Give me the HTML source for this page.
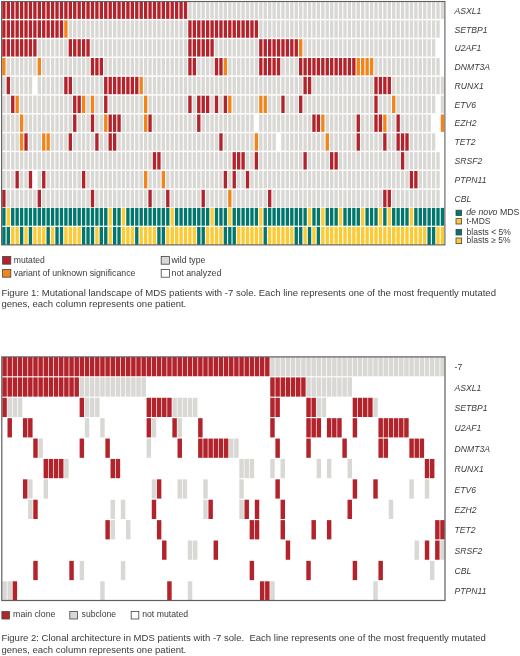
<!DOCTYPE html>
<html><head><meta charset="utf-8"><style>
html,body{margin:0;padding:0;background:#fff;}
body{width:520px;height:656px;position:relative;overflow:hidden;font-family:"Liberation Sans",sans-serif;color:#3a3a3a;}
svg{position:absolute;left:0;top:0;}
#wrap{position:absolute;left:0;top:0;width:520px;height:656px;}
</style></head><body>
<div id="wrap"><svg width="520" height="656" viewBox="0 0 520 656" shape-rendering="auto">
<rect x="2.20" y="1.50" width="3.35" height="17.40" fill="#b2232b"/><rect x="6.63" y="1.50" width="3.35" height="17.40" fill="#b2232b"/><rect x="11.06" y="1.50" width="3.35" height="17.40" fill="#b2232b"/><rect x="15.49" y="1.50" width="3.35" height="17.40" fill="#b2232b"/><rect x="19.92" y="1.50" width="3.35" height="17.40" fill="#b2232b"/><rect x="24.35" y="1.50" width="3.35" height="17.40" fill="#b2232b"/><rect x="28.78" y="1.50" width="3.35" height="17.40" fill="#b2232b"/><rect x="33.21" y="1.50" width="3.35" height="17.40" fill="#b2232b"/><rect x="37.64" y="1.50" width="3.35" height="17.40" fill="#b2232b"/><rect x="42.07" y="1.50" width="3.35" height="17.40" fill="#b2232b"/><rect x="46.50" y="1.50" width="3.35" height="17.40" fill="#b2232b"/><rect x="50.93" y="1.50" width="3.35" height="17.40" fill="#b2232b"/><rect x="55.36" y="1.50" width="3.35" height="17.40" fill="#b2232b"/><rect x="59.79" y="1.50" width="3.35" height="17.40" fill="#b2232b"/><rect x="64.22" y="1.50" width="3.35" height="17.40" fill="#b2232b"/><rect x="68.65" y="1.50" width="3.35" height="17.40" fill="#b2232b"/><rect x="73.08" y="1.50" width="3.35" height="17.40" fill="#b2232b"/><rect x="77.51" y="1.50" width="3.35" height="17.40" fill="#b2232b"/><rect x="81.94" y="1.50" width="3.35" height="17.40" fill="#b2232b"/><rect x="86.37" y="1.50" width="3.35" height="17.40" fill="#b2232b"/><rect x="90.80" y="1.50" width="3.35" height="17.40" fill="#b2232b"/><rect x="95.23" y="1.50" width="3.35" height="17.40" fill="#b2232b"/><rect x="99.66" y="1.50" width="3.35" height="17.40" fill="#b2232b"/><rect x="104.09" y="1.50" width="3.35" height="17.40" fill="#b2232b"/><rect x="108.52" y="1.50" width="3.35" height="17.40" fill="#b2232b"/><rect x="112.95" y="1.50" width="3.35" height="17.40" fill="#b2232b"/><rect x="117.38" y="1.50" width="3.35" height="17.40" fill="#b2232b"/><rect x="121.81" y="1.50" width="3.35" height="17.40" fill="#b2232b"/><rect x="126.24" y="1.50" width="3.35" height="17.40" fill="#b2232b"/><rect x="130.67" y="1.50" width="3.35" height="17.40" fill="#b2232b"/><rect x="135.10" y="1.50" width="3.35" height="17.40" fill="#b2232b"/><rect x="139.53" y="1.50" width="3.35" height="17.40" fill="#b2232b"/><rect x="143.96" y="1.50" width="3.35" height="17.40" fill="#b2232b"/><rect x="148.39" y="1.50" width="3.35" height="17.40" fill="#b2232b"/><rect x="152.82" y="1.50" width="3.35" height="17.40" fill="#b2232b"/><rect x="157.25" y="1.50" width="3.35" height="17.40" fill="#b2232b"/><rect x="161.68" y="1.50" width="3.35" height="17.40" fill="#b2232b"/><rect x="166.11" y="1.50" width="3.35" height="17.40" fill="#b2232b"/><rect x="170.54" y="1.50" width="3.35" height="17.40" fill="#b2232b"/><rect x="174.97" y="1.50" width="3.35" height="17.40" fill="#b2232b"/><rect x="179.40" y="1.50" width="3.35" height="17.40" fill="#b2232b"/><rect x="183.83" y="1.50" width="3.35" height="17.40" fill="#b2232b"/><rect x="188.26" y="1.50" width="3.35" height="17.40" fill="#d9d8d5"/><rect x="192.69" y="1.50" width="3.35" height="17.40" fill="#d9d8d5"/><rect x="197.12" y="1.50" width="3.35" height="17.40" fill="#d9d8d5"/><rect x="201.55" y="1.50" width="3.35" height="17.40" fill="#d9d8d5"/><rect x="205.98" y="1.50" width="3.35" height="17.40" fill="#d9d8d5"/><rect x="210.41" y="1.50" width="3.35" height="17.40" fill="#d9d8d5"/><rect x="214.84" y="1.50" width="3.35" height="17.40" fill="#d9d8d5"/><rect x="219.27" y="1.50" width="3.35" height="17.40" fill="#d9d8d5"/><rect x="223.70" y="1.50" width="3.35" height="17.40" fill="#d9d8d5"/><rect x="228.13" y="1.50" width="3.35" height="17.40" fill="#d9d8d5"/><rect x="232.56" y="1.50" width="3.35" height="17.40" fill="#d9d8d5"/><rect x="236.99" y="1.50" width="3.35" height="17.40" fill="#d9d8d5"/><rect x="241.42" y="1.50" width="3.35" height="17.40" fill="#d9d8d5"/><rect x="245.85" y="1.50" width="3.35" height="17.40" fill="#d9d8d5"/><rect x="250.28" y="1.50" width="3.35" height="17.40" fill="#d9d8d5"/><rect x="254.71" y="1.50" width="3.35" height="17.40" fill="#d9d8d5"/><rect x="259.14" y="1.50" width="3.35" height="17.40" fill="#d9d8d5"/><rect x="263.57" y="1.50" width="3.35" height="17.40" fill="#d9d8d5"/><rect x="268.00" y="1.50" width="3.35" height="17.40" fill="#d9d8d5"/><rect x="272.43" y="1.50" width="3.35" height="17.40" fill="#d9d8d5"/><rect x="276.86" y="1.50" width="3.35" height="17.40" fill="#d9d8d5"/><rect x="281.29" y="1.50" width="3.35" height="17.40" fill="#d9d8d5"/><rect x="285.72" y="1.50" width="3.35" height="17.40" fill="#d9d8d5"/><rect x="290.15" y="1.50" width="3.35" height="17.40" fill="#d9d8d5"/><rect x="294.58" y="1.50" width="3.35" height="17.40" fill="#d9d8d5"/><rect x="299.01" y="1.50" width="3.35" height="17.40" fill="#d9d8d5"/><rect x="303.44" y="1.50" width="3.35" height="17.40" fill="#d9d8d5"/><rect x="307.87" y="1.50" width="3.35" height="17.40" fill="#d9d8d5"/><rect x="312.30" y="1.50" width="3.35" height="17.40" fill="#d9d8d5"/><rect x="316.73" y="1.50" width="3.35" height="17.40" fill="#d9d8d5"/><rect x="321.16" y="1.50" width="3.35" height="17.40" fill="#d9d8d5"/><rect x="325.59" y="1.50" width="3.35" height="17.40" fill="#d9d8d5"/><rect x="330.02" y="1.50" width="3.35" height="17.40" fill="#d9d8d5"/><rect x="334.45" y="1.50" width="3.35" height="17.40" fill="#d9d8d5"/><rect x="338.88" y="1.50" width="3.35" height="17.40" fill="#d9d8d5"/><rect x="343.31" y="1.50" width="3.35" height="17.40" fill="#d9d8d5"/><rect x="347.74" y="1.50" width="3.35" height="17.40" fill="#d9d8d5"/><rect x="352.17" y="1.50" width="3.35" height="17.40" fill="#d9d8d5"/><rect x="356.60" y="1.50" width="3.35" height="17.40" fill="#d9d8d5"/><rect x="361.03" y="1.50" width="3.35" height="17.40" fill="#d9d8d5"/><rect x="365.46" y="1.50" width="3.35" height="17.40" fill="#d9d8d5"/><rect x="369.89" y="1.50" width="3.35" height="17.40" fill="#d9d8d5"/><rect x="374.32" y="1.50" width="3.35" height="17.40" fill="#d9d8d5"/><rect x="378.75" y="1.50" width="3.35" height="17.40" fill="#d9d8d5"/><rect x="383.18" y="1.50" width="3.35" height="17.40" fill="#d9d8d5"/><rect x="387.61" y="1.50" width="3.35" height="17.40" fill="#d9d8d5"/><rect x="392.04" y="1.50" width="3.35" height="17.40" fill="#d9d8d5"/><rect x="396.47" y="1.50" width="3.35" height="17.40" fill="#d9d8d5"/><rect x="400.90" y="1.50" width="3.35" height="17.40" fill="#d9d8d5"/><rect x="405.33" y="1.50" width="3.35" height="17.40" fill="#d9d8d5"/><rect x="409.76" y="1.50" width="3.35" height="17.40" fill="#d9d8d5"/><rect x="414.19" y="1.50" width="3.35" height="17.40" fill="#d9d8d5"/><rect x="418.62" y="1.50" width="3.35" height="17.40" fill="#d9d8d5"/><rect x="423.05" y="1.50" width="3.35" height="17.40" fill="#d9d8d5"/><rect x="427.48" y="1.50" width="3.35" height="17.40" fill="#d9d8d5"/><rect x="431.91" y="1.50" width="3.35" height="17.40" fill="#d9d8d5"/><rect x="436.34" y="1.50" width="3.35" height="17.40" fill="#d9d8d5"/><rect x="440.77" y="1.50" width="3.35" height="17.40" fill="#d9d8d5"/><rect x="2.20" y="20.33" width="3.35" height="17.40" fill="#b2232b"/><rect x="6.63" y="20.33" width="3.35" height="17.40" fill="#b2232b"/><rect x="11.06" y="20.33" width="3.35" height="17.40" fill="#b2232b"/><rect x="15.49" y="20.33" width="3.35" height="17.40" fill="#b2232b"/><rect x="19.92" y="20.33" width="3.35" height="17.40" fill="#b2232b"/><rect x="24.35" y="20.33" width="3.35" height="17.40" fill="#b2232b"/><rect x="28.78" y="20.33" width="3.35" height="17.40" fill="#b2232b"/><rect x="33.21" y="20.33" width="3.35" height="17.40" fill="#b2232b"/><rect x="37.64" y="20.33" width="3.35" height="17.40" fill="#b2232b"/><rect x="42.07" y="20.33" width="3.35" height="17.40" fill="#b2232b"/><rect x="46.50" y="20.33" width="3.35" height="17.40" fill="#b2232b"/><rect x="50.93" y="20.33" width="3.35" height="17.40" fill="#b2232b"/><rect x="55.36" y="20.33" width="3.35" height="17.40" fill="#b2232b"/><rect x="59.79" y="20.33" width="3.35" height="17.40" fill="#b2232b"/><rect x="64.22" y="20.33" width="3.35" height="17.40" fill="#f3841c"/><rect x="68.65" y="20.33" width="3.35" height="17.40" fill="#d9d8d5"/><rect x="73.08" y="20.33" width="3.35" height="17.40" fill="#d9d8d5"/><rect x="77.51" y="20.33" width="3.35" height="17.40" fill="#d9d8d5"/><rect x="81.94" y="20.33" width="3.35" height="17.40" fill="#d9d8d5"/><rect x="86.37" y="20.33" width="3.35" height="17.40" fill="#d9d8d5"/><rect x="90.80" y="20.33" width="3.35" height="17.40" fill="#d9d8d5"/><rect x="95.23" y="20.33" width="3.35" height="17.40" fill="#d9d8d5"/><rect x="99.66" y="20.33" width="3.35" height="17.40" fill="#d9d8d5"/><rect x="104.09" y="20.33" width="3.35" height="17.40" fill="#d9d8d5"/><rect x="108.52" y="20.33" width="3.35" height="17.40" fill="#d9d8d5"/><rect x="112.95" y="20.33" width="3.35" height="17.40" fill="#d9d8d5"/><rect x="117.38" y="20.33" width="3.35" height="17.40" fill="#d9d8d5"/><rect x="121.81" y="20.33" width="3.35" height="17.40" fill="#d9d8d5"/><rect x="126.24" y="20.33" width="3.35" height="17.40" fill="#d9d8d5"/><rect x="130.67" y="20.33" width="3.35" height="17.40" fill="#d9d8d5"/><rect x="135.10" y="20.33" width="3.35" height="17.40" fill="#d9d8d5"/><rect x="139.53" y="20.33" width="3.35" height="17.40" fill="#d9d8d5"/><rect x="143.96" y="20.33" width="3.35" height="17.40" fill="#d9d8d5"/><rect x="148.39" y="20.33" width="3.35" height="17.40" fill="#d9d8d5"/><rect x="152.82" y="20.33" width="3.35" height="17.40" fill="#d9d8d5"/><rect x="157.25" y="20.33" width="3.35" height="17.40" fill="#d9d8d5"/><rect x="161.68" y="20.33" width="3.35" height="17.40" fill="#d9d8d5"/><rect x="166.11" y="20.33" width="3.35" height="17.40" fill="#d9d8d5"/><rect x="170.54" y="20.33" width="3.35" height="17.40" fill="#d9d8d5"/><rect x="174.97" y="20.33" width="3.35" height="17.40" fill="#d9d8d5"/><rect x="179.40" y="20.33" width="3.35" height="17.40" fill="#d9d8d5"/><rect x="183.83" y="20.33" width="3.35" height="17.40" fill="#d9d8d5"/><rect x="188.26" y="20.33" width="3.35" height="17.40" fill="#b2232b"/><rect x="192.69" y="20.33" width="3.35" height="17.40" fill="#b2232b"/><rect x="197.12" y="20.33" width="3.35" height="17.40" fill="#b2232b"/><rect x="201.55" y="20.33" width="3.35" height="17.40" fill="#b2232b"/><rect x="205.98" y="20.33" width="3.35" height="17.40" fill="#b2232b"/><rect x="210.41" y="20.33" width="3.35" height="17.40" fill="#b2232b"/><rect x="214.84" y="20.33" width="3.35" height="17.40" fill="#b2232b"/><rect x="219.27" y="20.33" width="3.35" height="17.40" fill="#b2232b"/><rect x="223.70" y="20.33" width="3.35" height="17.40" fill="#b2232b"/><rect x="228.13" y="20.33" width="3.35" height="17.40" fill="#b2232b"/><rect x="232.56" y="20.33" width="3.35" height="17.40" fill="#b2232b"/><rect x="236.99" y="20.33" width="3.35" height="17.40" fill="#b2232b"/><rect x="241.42" y="20.33" width="3.35" height="17.40" fill="#b2232b"/><rect x="245.85" y="20.33" width="3.35" height="17.40" fill="#b2232b"/><rect x="250.28" y="20.33" width="3.35" height="17.40" fill="#b2232b"/><rect x="254.71" y="20.33" width="3.35" height="17.40" fill="#b2232b"/><rect x="259.14" y="20.33" width="3.35" height="17.40" fill="#d9d8d5"/><rect x="263.57" y="20.33" width="3.35" height="17.40" fill="#d9d8d5"/><rect x="268.00" y="20.33" width="3.35" height="17.40" fill="#d9d8d5"/><rect x="272.43" y="20.33" width="3.35" height="17.40" fill="#d9d8d5"/><rect x="276.86" y="20.33" width="3.35" height="17.40" fill="#d9d8d5"/><rect x="281.29" y="20.33" width="3.35" height="17.40" fill="#d9d8d5"/><rect x="285.72" y="20.33" width="3.35" height="17.40" fill="#d9d8d5"/><rect x="290.15" y="20.33" width="3.35" height="17.40" fill="#d9d8d5"/><rect x="294.58" y="20.33" width="3.35" height="17.40" fill="#d9d8d5"/><rect x="299.01" y="20.33" width="3.35" height="17.40" fill="#d9d8d5"/><rect x="303.44" y="20.33" width="3.35" height="17.40" fill="#d9d8d5"/><rect x="307.87" y="20.33" width="3.35" height="17.40" fill="#d9d8d5"/><rect x="312.30" y="20.33" width="3.35" height="17.40" fill="#d9d8d5"/><rect x="316.73" y="20.33" width="3.35" height="17.40" fill="#d9d8d5"/><rect x="321.16" y="20.33" width="3.35" height="17.40" fill="#d9d8d5"/><rect x="325.59" y="20.33" width="3.35" height="17.40" fill="#d9d8d5"/><rect x="330.02" y="20.33" width="3.35" height="17.40" fill="#d9d8d5"/><rect x="334.45" y="20.33" width="3.35" height="17.40" fill="#d9d8d5"/><rect x="338.88" y="20.33" width="3.35" height="17.40" fill="#d9d8d5"/><rect x="343.31" y="20.33" width="3.35" height="17.40" fill="#d9d8d5"/><rect x="347.74" y="20.33" width="3.35" height="17.40" fill="#d9d8d5"/><rect x="352.17" y="20.33" width="3.35" height="17.40" fill="#d9d8d5"/><rect x="356.60" y="20.33" width="3.35" height="17.40" fill="#d9d8d5"/><rect x="361.03" y="20.33" width="3.35" height="17.40" fill="#d9d8d5"/><rect x="365.46" y="20.33" width="3.35" height="17.40" fill="#d9d8d5"/><rect x="369.89" y="20.33" width="3.35" height="17.40" fill="#d9d8d5"/><rect x="374.32" y="20.33" width="3.35" height="17.40" fill="#d9d8d5"/><rect x="378.75" y="20.33" width="3.35" height="17.40" fill="#d9d8d5"/><rect x="383.18" y="20.33" width="3.35" height="17.40" fill="#d9d8d5"/><rect x="387.61" y="20.33" width="3.35" height="17.40" fill="#d9d8d5"/><rect x="392.04" y="20.33" width="3.35" height="17.40" fill="#d9d8d5"/><rect x="396.47" y="20.33" width="3.35" height="17.40" fill="#d9d8d5"/><rect x="400.90" y="20.33" width="3.35" height="17.40" fill="#d9d8d5"/><rect x="405.33" y="20.33" width="3.35" height="17.40" fill="#d9d8d5"/><rect x="409.76" y="20.33" width="3.35" height="17.40" fill="#d9d8d5"/><rect x="414.19" y="20.33" width="3.35" height="17.40" fill="#d9d8d5"/><rect x="418.62" y="20.33" width="3.35" height="17.40" fill="#d9d8d5"/><rect x="423.05" y="20.33" width="3.35" height="17.40" fill="#d9d8d5"/><rect x="427.48" y="20.33" width="3.35" height="17.40" fill="#d9d8d5"/><rect x="431.91" y="20.33" width="3.35" height="17.40" fill="#d9d8d5"/><rect x="436.34" y="20.33" width="3.35" height="17.40" fill="#d9d8d5"/><rect x="2.20" y="39.16" width="3.35" height="17.40" fill="#b2232b"/><rect x="6.63" y="39.16" width="3.35" height="17.40" fill="#b2232b"/><rect x="11.06" y="39.16" width="3.35" height="17.40" fill="#b2232b"/><rect x="15.49" y="39.16" width="3.35" height="17.40" fill="#b2232b"/><rect x="19.92" y="39.16" width="3.35" height="17.40" fill="#b2232b"/><rect x="24.35" y="39.16" width="3.35" height="17.40" fill="#b2232b"/><rect x="28.78" y="39.16" width="3.35" height="17.40" fill="#b2232b"/><rect x="33.21" y="39.16" width="3.35" height="17.40" fill="#b2232b"/><rect x="37.64" y="39.16" width="3.35" height="17.40" fill="#d9d8d5"/><rect x="42.07" y="39.16" width="3.35" height="17.40" fill="#d9d8d5"/><rect x="46.50" y="39.16" width="3.35" height="17.40" fill="#d9d8d5"/><rect x="50.93" y="39.16" width="3.35" height="17.40" fill="#d9d8d5"/><rect x="55.36" y="39.16" width="3.35" height="17.40" fill="#d9d8d5"/><rect x="59.79" y="39.16" width="3.35" height="17.40" fill="#d9d8d5"/><rect x="64.22" y="39.16" width="3.35" height="17.40" fill="#d9d8d5"/><rect x="68.65" y="39.16" width="3.35" height="17.40" fill="#b2232b"/><rect x="73.08" y="39.16" width="3.35" height="17.40" fill="#b2232b"/><rect x="77.51" y="39.16" width="3.35" height="17.40" fill="#b2232b"/><rect x="81.94" y="39.16" width="3.35" height="17.40" fill="#b2232b"/><rect x="86.37" y="39.16" width="3.35" height="17.40" fill="#b2232b"/><rect x="90.80" y="39.16" width="3.35" height="17.40" fill="#d9d8d5"/><rect x="95.23" y="39.16" width="3.35" height="17.40" fill="#d9d8d5"/><rect x="99.66" y="39.16" width="3.35" height="17.40" fill="#d9d8d5"/><rect x="104.09" y="39.16" width="3.35" height="17.40" fill="#d9d8d5"/><rect x="108.52" y="39.16" width="3.35" height="17.40" fill="#d9d8d5"/><rect x="112.95" y="39.16" width="3.35" height="17.40" fill="#d9d8d5"/><rect x="117.38" y="39.16" width="3.35" height="17.40" fill="#d9d8d5"/><rect x="121.81" y="39.16" width="3.35" height="17.40" fill="#d9d8d5"/><rect x="126.24" y="39.16" width="3.35" height="17.40" fill="#d9d8d5"/><rect x="130.67" y="39.16" width="3.35" height="17.40" fill="#d9d8d5"/><rect x="135.10" y="39.16" width="3.35" height="17.40" fill="#d9d8d5"/><rect x="139.53" y="39.16" width="3.35" height="17.40" fill="#d9d8d5"/><rect x="143.96" y="39.16" width="3.35" height="17.40" fill="#d9d8d5"/><rect x="148.39" y="39.16" width="3.35" height="17.40" fill="#d9d8d5"/><rect x="152.82" y="39.16" width="3.35" height="17.40" fill="#d9d8d5"/><rect x="157.25" y="39.16" width="3.35" height="17.40" fill="#d9d8d5"/><rect x="161.68" y="39.16" width="3.35" height="17.40" fill="#d9d8d5"/><rect x="166.11" y="39.16" width="3.35" height="17.40" fill="#d9d8d5"/><rect x="170.54" y="39.16" width="3.35" height="17.40" fill="#d9d8d5"/><rect x="174.97" y="39.16" width="3.35" height="17.40" fill="#d9d8d5"/><rect x="179.40" y="39.16" width="3.35" height="17.40" fill="#d9d8d5"/><rect x="183.83" y="39.16" width="3.35" height="17.40" fill="#d9d8d5"/><rect x="188.26" y="39.16" width="3.35" height="17.40" fill="#b2232b"/><rect x="192.69" y="39.16" width="3.35" height="17.40" fill="#b2232b"/><rect x="197.12" y="39.16" width="3.35" height="17.40" fill="#b2232b"/><rect x="201.55" y="39.16" width="3.35" height="17.40" fill="#b2232b"/><rect x="205.98" y="39.16" width="3.35" height="17.40" fill="#b2232b"/><rect x="210.41" y="39.16" width="3.35" height="17.40" fill="#b2232b"/><rect x="214.84" y="39.16" width="3.35" height="17.40" fill="#d9d8d5"/><rect x="219.27" y="39.16" width="3.35" height="17.40" fill="#d9d8d5"/><rect x="223.70" y="39.16" width="3.35" height="17.40" fill="#d9d8d5"/><rect x="228.13" y="39.16" width="3.35" height="17.40" fill="#d9d8d5"/><rect x="232.56" y="39.16" width="3.35" height="17.40" fill="#d9d8d5"/><rect x="236.99" y="39.16" width="3.35" height="17.40" fill="#d9d8d5"/><rect x="241.42" y="39.16" width="3.35" height="17.40" fill="#d9d8d5"/><rect x="245.85" y="39.16" width="3.35" height="17.40" fill="#d9d8d5"/><rect x="250.28" y="39.16" width="3.35" height="17.40" fill="#d9d8d5"/><rect x="254.71" y="39.16" width="3.35" height="17.40" fill="#d9d8d5"/><rect x="259.14" y="39.16" width="3.35" height="17.40" fill="#b2232b"/><rect x="263.57" y="39.16" width="3.35" height="17.40" fill="#b2232b"/><rect x="268.00" y="39.16" width="3.35" height="17.40" fill="#b2232b"/><rect x="272.43" y="39.16" width="3.35" height="17.40" fill="#b2232b"/><rect x="276.86" y="39.16" width="3.35" height="17.40" fill="#b2232b"/><rect x="281.29" y="39.16" width="3.35" height="17.40" fill="#b2232b"/><rect x="285.72" y="39.16" width="3.35" height="17.40" fill="#b2232b"/><rect x="290.15" y="39.16" width="3.35" height="17.40" fill="#b2232b"/><rect x="294.58" y="39.16" width="3.35" height="17.40" fill="#b2232b"/><rect x="299.01" y="39.16" width="3.35" height="17.40" fill="#f3841c"/><rect x="303.44" y="39.16" width="3.35" height="17.40" fill="#d9d8d5"/><rect x="307.87" y="39.16" width="3.35" height="17.40" fill="#d9d8d5"/><rect x="312.30" y="39.16" width="3.35" height="17.40" fill="#d9d8d5"/><rect x="316.73" y="39.16" width="3.35" height="17.40" fill="#d9d8d5"/><rect x="321.16" y="39.16" width="3.35" height="17.40" fill="#d9d8d5"/><rect x="325.59" y="39.16" width="3.35" height="17.40" fill="#d9d8d5"/><rect x="330.02" y="39.16" width="3.35" height="17.40" fill="#d9d8d5"/><rect x="334.45" y="39.16" width="3.35" height="17.40" fill="#d9d8d5"/><rect x="338.88" y="39.16" width="3.35" height="17.40" fill="#d9d8d5"/><rect x="343.31" y="39.16" width="3.35" height="17.40" fill="#d9d8d5"/><rect x="347.74" y="39.16" width="3.35" height="17.40" fill="#d9d8d5"/><rect x="352.17" y="39.16" width="3.35" height="17.40" fill="#d9d8d5"/><rect x="356.60" y="39.16" width="3.35" height="17.40" fill="#d9d8d5"/><rect x="361.03" y="39.16" width="3.35" height="17.40" fill="#d9d8d5"/><rect x="365.46" y="39.16" width="3.35" height="17.40" fill="#d9d8d5"/><rect x="369.89" y="39.16" width="3.35" height="17.40" fill="#d9d8d5"/><rect x="374.32" y="39.16" width="3.35" height="17.40" fill="#d9d8d5"/><rect x="378.75" y="39.16" width="3.35" height="17.40" fill="#d9d8d5"/><rect x="383.18" y="39.16" width="3.35" height="17.40" fill="#d9d8d5"/><rect x="387.61" y="39.16" width="3.35" height="17.40" fill="#d9d8d5"/><rect x="392.04" y="39.16" width="3.35" height="17.40" fill="#d9d8d5"/><rect x="396.47" y="39.16" width="3.35" height="17.40" fill="#d9d8d5"/><rect x="400.90" y="39.16" width="3.35" height="17.40" fill="#d9d8d5"/><rect x="405.33" y="39.16" width="3.35" height="17.40" fill="#d9d8d5"/><rect x="409.76" y="39.16" width="3.35" height="17.40" fill="#d9d8d5"/><rect x="414.19" y="39.16" width="3.35" height="17.40" fill="#d9d8d5"/><rect x="418.62" y="39.16" width="3.35" height="17.40" fill="#d9d8d5"/><rect x="423.05" y="39.16" width="3.35" height="17.40" fill="#d9d8d5"/><rect x="427.48" y="39.16" width="3.35" height="17.40" fill="#d9d8d5"/><rect x="431.91" y="39.16" width="3.35" height="17.40" fill="#d9d8d5"/><rect x="2.20" y="57.99" width="3.35" height="17.40" fill="#f3841c"/><rect x="6.63" y="57.99" width="3.35" height="17.40" fill="#d9d8d5"/><rect x="11.06" y="57.99" width="3.35" height="17.40" fill="#d9d8d5"/><rect x="15.49" y="57.99" width="3.35" height="17.40" fill="#d9d8d5"/><rect x="19.92" y="57.99" width="3.35" height="17.40" fill="#d9d8d5"/><rect x="24.35" y="57.99" width="3.35" height="17.40" fill="#d9d8d5"/><rect x="28.78" y="57.99" width="3.35" height="17.40" fill="#d9d8d5"/><rect x="33.21" y="57.99" width="3.35" height="17.40" fill="#d9d8d5"/><rect x="37.64" y="57.99" width="3.35" height="17.40" fill="#f3841c"/><rect x="42.07" y="57.99" width="3.35" height="17.40" fill="#d9d8d5"/><rect x="46.50" y="57.99" width="3.35" height="17.40" fill="#d9d8d5"/><rect x="50.93" y="57.99" width="3.35" height="17.40" fill="#d9d8d5"/><rect x="55.36" y="57.99" width="3.35" height="17.40" fill="#d9d8d5"/><rect x="59.79" y="57.99" width="3.35" height="17.40" fill="#d9d8d5"/><rect x="64.22" y="57.99" width="3.35" height="17.40" fill="#d9d8d5"/><rect x="68.65" y="57.99" width="3.35" height="17.40" fill="#d9d8d5"/><rect x="73.08" y="57.99" width="3.35" height="17.40" fill="#d9d8d5"/><rect x="77.51" y="57.99" width="3.35" height="17.40" fill="#d9d8d5"/><rect x="81.94" y="57.99" width="3.35" height="17.40" fill="#d9d8d5"/><rect x="86.37" y="57.99" width="3.35" height="17.40" fill="#d9d8d5"/><rect x="90.80" y="57.99" width="3.35" height="17.40" fill="#b2232b"/><rect x="95.23" y="57.99" width="3.35" height="17.40" fill="#b2232b"/><rect x="99.66" y="57.99" width="3.35" height="17.40" fill="#b2232b"/><rect x="104.09" y="57.99" width="3.35" height="17.40" fill="#d9d8d5"/><rect x="108.52" y="57.99" width="3.35" height="17.40" fill="#d9d8d5"/><rect x="112.95" y="57.99" width="3.35" height="17.40" fill="#d9d8d5"/><rect x="117.38" y="57.99" width="3.35" height="17.40" fill="#d9d8d5"/><rect x="121.81" y="57.99" width="3.35" height="17.40" fill="#d9d8d5"/><rect x="126.24" y="57.99" width="3.35" height="17.40" fill="#d9d8d5"/><rect x="130.67" y="57.99" width="3.35" height="17.40" fill="#d9d8d5"/><rect x="135.10" y="57.99" width="3.35" height="17.40" fill="#d9d8d5"/><rect x="139.53" y="57.99" width="3.35" height="17.40" fill="#d9d8d5"/><rect x="143.96" y="57.99" width="3.35" height="17.40" fill="#d9d8d5"/><rect x="148.39" y="57.99" width="3.35" height="17.40" fill="#d9d8d5"/><rect x="152.82" y="57.99" width="3.35" height="17.40" fill="#d9d8d5"/><rect x="157.25" y="57.99" width="3.35" height="17.40" fill="#d9d8d5"/><rect x="161.68" y="57.99" width="3.35" height="17.40" fill="#d9d8d5"/><rect x="166.11" y="57.99" width="3.35" height="17.40" fill="#d9d8d5"/><rect x="170.54" y="57.99" width="3.35" height="17.40" fill="#d9d8d5"/><rect x="174.97" y="57.99" width="3.35" height="17.40" fill="#d9d8d5"/><rect x="179.40" y="57.99" width="3.35" height="17.40" fill="#d9d8d5"/><rect x="183.83" y="57.99" width="3.35" height="17.40" fill="#d9d8d5"/><rect x="188.26" y="57.99" width="3.35" height="17.40" fill="#b2232b"/><rect x="192.69" y="57.99" width="3.35" height="17.40" fill="#b2232b"/><rect x="197.12" y="57.99" width="3.35" height="17.40" fill="#d9d8d5"/><rect x="201.55" y="57.99" width="3.35" height="17.40" fill="#d9d8d5"/><rect x="205.98" y="57.99" width="3.35" height="17.40" fill="#d9d8d5"/><rect x="210.41" y="57.99" width="3.35" height="17.40" fill="#d9d8d5"/><rect x="214.84" y="57.99" width="3.35" height="17.40" fill="#b2232b"/><rect x="219.27" y="57.99" width="3.35" height="17.40" fill="#b2232b"/><rect x="223.70" y="57.99" width="3.35" height="17.40" fill="#f3841c"/><rect x="228.13" y="57.99" width="3.35" height="17.40" fill="#d9d8d5"/><rect x="232.56" y="57.99" width="3.35" height="17.40" fill="#d9d8d5"/><rect x="236.99" y="57.99" width="3.35" height="17.40" fill="#d9d8d5"/><rect x="241.42" y="57.99" width="3.35" height="17.40" fill="#d9d8d5"/><rect x="245.85" y="57.99" width="3.35" height="17.40" fill="#d9d8d5"/><rect x="250.28" y="57.99" width="3.35" height="17.40" fill="#d9d8d5"/><rect x="254.71" y="57.99" width="3.35" height="17.40" fill="#d9d8d5"/><rect x="259.14" y="57.99" width="3.35" height="17.40" fill="#b2232b"/><rect x="263.57" y="57.99" width="3.35" height="17.40" fill="#b2232b"/><rect x="268.00" y="57.99" width="3.35" height="17.40" fill="#b2232b"/><rect x="272.43" y="57.99" width="3.35" height="17.40" fill="#b2232b"/><rect x="276.86" y="57.99" width="3.35" height="17.40" fill="#b2232b"/><rect x="281.29" y="57.99" width="3.35" height="17.40" fill="#d9d8d5"/><rect x="285.72" y="57.99" width="3.35" height="17.40" fill="#d9d8d5"/><rect x="290.15" y="57.99" width="3.35" height="17.40" fill="#d9d8d5"/><rect x="294.58" y="57.99" width="3.35" height="17.40" fill="#d9d8d5"/><rect x="299.01" y="57.99" width="3.35" height="17.40" fill="#b2232b"/><rect x="303.44" y="57.99" width="3.35" height="17.40" fill="#b2232b"/><rect x="307.87" y="57.99" width="3.35" height="17.40" fill="#b2232b"/><rect x="312.30" y="57.99" width="3.35" height="17.40" fill="#b2232b"/><rect x="316.73" y="57.99" width="3.35" height="17.40" fill="#b2232b"/><rect x="321.16" y="57.99" width="3.35" height="17.40" fill="#b2232b"/><rect x="325.59" y="57.99" width="3.35" height="17.40" fill="#b2232b"/><rect x="330.02" y="57.99" width="3.35" height="17.40" fill="#b2232b"/><rect x="334.45" y="57.99" width="3.35" height="17.40" fill="#b2232b"/><rect x="338.88" y="57.99" width="3.35" height="17.40" fill="#b2232b"/><rect x="343.31" y="57.99" width="3.35" height="17.40" fill="#b2232b"/><rect x="347.74" y="57.99" width="3.35" height="17.40" fill="#b2232b"/><rect x="352.17" y="57.99" width="3.35" height="17.40" fill="#b2232b"/><rect x="356.60" y="57.99" width="3.35" height="17.40" fill="#f3841c"/><rect x="361.03" y="57.99" width="3.35" height="17.40" fill="#f3841c"/><rect x="365.46" y="57.99" width="3.35" height="17.40" fill="#f3841c"/><rect x="369.89" y="57.99" width="3.35" height="17.40" fill="#f3841c"/><rect x="374.32" y="57.99" width="3.35" height="17.40" fill="#d9d8d5"/><rect x="378.75" y="57.99" width="3.35" height="17.40" fill="#d9d8d5"/><rect x="383.18" y="57.99" width="3.35" height="17.40" fill="#d9d8d5"/><rect x="387.61" y="57.99" width="3.35" height="17.40" fill="#d9d8d5"/><rect x="392.04" y="57.99" width="3.35" height="17.40" fill="#d9d8d5"/><rect x="396.47" y="57.99" width="3.35" height="17.40" fill="#d9d8d5"/><rect x="400.90" y="57.99" width="3.35" height="17.40" fill="#d9d8d5"/><rect x="405.33" y="57.99" width="3.35" height="17.40" fill="#d9d8d5"/><rect x="409.76" y="57.99" width="3.35" height="17.40" fill="#d9d8d5"/><rect x="414.19" y="57.99" width="3.35" height="17.40" fill="#d9d8d5"/><rect x="418.62" y="57.99" width="3.35" height="17.40" fill="#d9d8d5"/><rect x="423.05" y="57.99" width="3.35" height="17.40" fill="#d9d8d5"/><rect x="427.48" y="57.99" width="3.35" height="17.40" fill="#d9d8d5"/><rect x="431.91" y="57.99" width="3.35" height="17.40" fill="#d9d8d5"/><rect x="436.34" y="57.99" width="3.35" height="17.40" fill="#d9d8d5"/><rect x="2.20" y="76.82" width="3.35" height="17.40" fill="#d9d8d5"/><rect x="6.63" y="76.82" width="3.35" height="17.40" fill="#b2232b"/><rect x="11.06" y="76.82" width="3.35" height="17.40" fill="#d9d8d5"/><rect x="15.49" y="76.82" width="3.35" height="17.40" fill="#d9d8d5"/><rect x="19.92" y="76.82" width="3.35" height="17.40" fill="#d9d8d5"/><rect x="24.35" y="76.82" width="3.35" height="17.40" fill="#d9d8d5"/><rect x="28.78" y="76.82" width="3.35" height="17.40" fill="#d9d8d5"/><rect x="37.64" y="76.82" width="3.35" height="17.40" fill="#d9d8d5"/><rect x="42.07" y="76.82" width="3.35" height="17.40" fill="#d9d8d5"/><rect x="46.50" y="76.82" width="3.35" height="17.40" fill="#d9d8d5"/><rect x="50.93" y="76.82" width="3.35" height="17.40" fill="#d9d8d5"/><rect x="55.36" y="76.82" width="3.35" height="17.40" fill="#d9d8d5"/><rect x="59.79" y="76.82" width="3.35" height="17.40" fill="#d9d8d5"/><rect x="64.22" y="76.82" width="3.35" height="17.40" fill="#b2232b"/><rect x="68.65" y="76.82" width="3.35" height="17.40" fill="#b2232b"/><rect x="73.08" y="76.82" width="3.35" height="17.40" fill="#d9d8d5"/><rect x="77.51" y="76.82" width="3.35" height="17.40" fill="#d9d8d5"/><rect x="81.94" y="76.82" width="3.35" height="17.40" fill="#d9d8d5"/><rect x="86.37" y="76.82" width="3.35" height="17.40" fill="#d9d8d5"/><rect x="90.80" y="76.82" width="3.35" height="17.40" fill="#d9d8d5"/><rect x="95.23" y="76.82" width="3.35" height="17.40" fill="#d9d8d5"/><rect x="99.66" y="76.82" width="3.35" height="17.40" fill="#d9d8d5"/><rect x="104.09" y="76.82" width="3.35" height="17.40" fill="#b2232b"/><rect x="108.52" y="76.82" width="3.35" height="17.40" fill="#b2232b"/><rect x="112.95" y="76.82" width="3.35" height="17.40" fill="#b2232b"/><rect x="117.38" y="76.82" width="3.35" height="17.40" fill="#b2232b"/><rect x="121.81" y="76.82" width="3.35" height="17.40" fill="#b2232b"/><rect x="126.24" y="76.82" width="3.35" height="17.40" fill="#b2232b"/><rect x="130.67" y="76.82" width="3.35" height="17.40" fill="#b2232b"/><rect x="135.10" y="76.82" width="3.35" height="17.40" fill="#b2232b"/><rect x="139.53" y="76.82" width="3.35" height="17.40" fill="#f3841c"/><rect x="143.96" y="76.82" width="3.35" height="17.40" fill="#d9d8d5"/><rect x="148.39" y="76.82" width="3.35" height="17.40" fill="#d9d8d5"/><rect x="152.82" y="76.82" width="3.35" height="17.40" fill="#d9d8d5"/><rect x="157.25" y="76.82" width="3.35" height="17.40" fill="#d9d8d5"/><rect x="161.68" y="76.82" width="3.35" height="17.40" fill="#d9d8d5"/><rect x="166.11" y="76.82" width="3.35" height="17.40" fill="#d9d8d5"/><rect x="170.54" y="76.82" width="3.35" height="17.40" fill="#d9d8d5"/><rect x="174.97" y="76.82" width="3.35" height="17.40" fill="#d9d8d5"/><rect x="179.40" y="76.82" width="3.35" height="17.40" fill="#d9d8d5"/><rect x="183.83" y="76.82" width="3.35" height="17.40" fill="#d9d8d5"/><rect x="188.26" y="76.82" width="3.35" height="17.40" fill="#d9d8d5"/><rect x="192.69" y="76.82" width="3.35" height="17.40" fill="#d9d8d5"/><rect x="197.12" y="76.82" width="3.35" height="17.40" fill="#d9d8d5"/><rect x="201.55" y="76.82" width="3.35" height="17.40" fill="#d9d8d5"/><rect x="205.98" y="76.82" width="3.35" height="17.40" fill="#d9d8d5"/><rect x="210.41" y="76.82" width="3.35" height="17.40" fill="#d9d8d5"/><rect x="214.84" y="76.82" width="3.35" height="17.40" fill="#d9d8d5"/><rect x="219.27" y="76.82" width="3.35" height="17.40" fill="#d9d8d5"/><rect x="223.70" y="76.82" width="3.35" height="17.40" fill="#d9d8d5"/><rect x="228.13" y="76.82" width="3.35" height="17.40" fill="#d9d8d5"/><rect x="232.56" y="76.82" width="3.35" height="17.40" fill="#d9d8d5"/><rect x="236.99" y="76.82" width="3.35" height="17.40" fill="#d9d8d5"/><rect x="241.42" y="76.82" width="3.35" height="17.40" fill="#d9d8d5"/><rect x="245.85" y="76.82" width="3.35" height="17.40" fill="#d9d8d5"/><rect x="250.28" y="76.82" width="3.35" height="17.40" fill="#d9d8d5"/><rect x="254.71" y="76.82" width="3.35" height="17.40" fill="#d9d8d5"/><rect x="259.14" y="76.82" width="3.35" height="17.40" fill="#d9d8d5"/><rect x="263.57" y="76.82" width="3.35" height="17.40" fill="#d9d8d5"/><rect x="268.00" y="76.82" width="3.35" height="17.40" fill="#d9d8d5"/><rect x="272.43" y="76.82" width="3.35" height="17.40" fill="#d9d8d5"/><rect x="276.86" y="76.82" width="3.35" height="17.40" fill="#d9d8d5"/><rect x="281.29" y="76.82" width="3.35" height="17.40" fill="#d9d8d5"/><rect x="285.72" y="76.82" width="3.35" height="17.40" fill="#d9d8d5"/><rect x="290.15" y="76.82" width="3.35" height="17.40" fill="#d9d8d5"/><rect x="294.58" y="76.82" width="3.35" height="17.40" fill="#d9d8d5"/><rect x="299.01" y="76.82" width="3.35" height="17.40" fill="#d9d8d5"/><rect x="303.44" y="76.82" width="3.35" height="17.40" fill="#b2232b"/><rect x="307.87" y="76.82" width="3.35" height="17.40" fill="#b2232b"/><rect x="312.30" y="76.82" width="3.35" height="17.40" fill="#d9d8d5"/><rect x="316.73" y="76.82" width="3.35" height="17.40" fill="#d9d8d5"/><rect x="321.16" y="76.82" width="3.35" height="17.40" fill="#d9d8d5"/><rect x="325.59" y="76.82" width="3.35" height="17.40" fill="#d9d8d5"/><rect x="330.02" y="76.82" width="3.35" height="17.40" fill="#d9d8d5"/><rect x="334.45" y="76.82" width="3.35" height="17.40" fill="#d9d8d5"/><rect x="338.88" y="76.82" width="3.35" height="17.40" fill="#d9d8d5"/><rect x="343.31" y="76.82" width="3.35" height="17.40" fill="#d9d8d5"/><rect x="347.74" y="76.82" width="3.35" height="17.40" fill="#d9d8d5"/><rect x="352.17" y="76.82" width="3.35" height="17.40" fill="#d9d8d5"/><rect x="356.60" y="76.82" width="3.35" height="17.40" fill="#d9d8d5"/><rect x="361.03" y="76.82" width="3.35" height="17.40" fill="#d9d8d5"/><rect x="365.46" y="76.82" width="3.35" height="17.40" fill="#d9d8d5"/><rect x="369.89" y="76.82" width="3.35" height="17.40" fill="#d9d8d5"/><rect x="374.32" y="76.82" width="3.35" height="17.40" fill="#b2232b"/><rect x="378.75" y="76.82" width="3.35" height="17.40" fill="#b2232b"/><rect x="383.18" y="76.82" width="3.35" height="17.40" fill="#b2232b"/><rect x="387.61" y="76.82" width="3.35" height="17.40" fill="#b2232b"/><rect x="392.04" y="76.82" width="3.35" height="17.40" fill="#d9d8d5"/><rect x="396.47" y="76.82" width="3.35" height="17.40" fill="#d9d8d5"/><rect x="400.90" y="76.82" width="3.35" height="17.40" fill="#d9d8d5"/><rect x="405.33" y="76.82" width="3.35" height="17.40" fill="#d9d8d5"/><rect x="409.76" y="76.82" width="3.35" height="17.40" fill="#d9d8d5"/><rect x="414.19" y="76.82" width="3.35" height="17.40" fill="#d9d8d5"/><rect x="418.62" y="76.82" width="3.35" height="17.40" fill="#d9d8d5"/><rect x="423.05" y="76.82" width="3.35" height="17.40" fill="#d9d8d5"/><rect x="427.48" y="76.82" width="3.35" height="17.40" fill="#d9d8d5"/><rect x="431.91" y="76.82" width="3.35" height="17.40" fill="#d9d8d5"/><rect x="436.34" y="76.82" width="3.35" height="17.40" fill="#d9d8d5"/><rect x="440.77" y="76.82" width="3.35" height="17.40" fill="#d9d8d5"/><rect x="2.20" y="95.65" width="3.35" height="17.40" fill="#d9d8d5"/><rect x="6.63" y="95.65" width="3.35" height="17.40" fill="#d9d8d5"/><rect x="11.06" y="95.65" width="3.35" height="17.40" fill="#b2232b"/><rect x="15.49" y="95.65" width="3.35" height="17.40" fill="#f3841c"/><rect x="19.92" y="95.65" width="3.35" height="17.40" fill="#d9d8d5"/><rect x="24.35" y="95.65" width="3.35" height="17.40" fill="#d9d8d5"/><rect x="28.78" y="95.65" width="3.35" height="17.40" fill="#d9d8d5"/><rect x="33.21" y="95.65" width="3.35" height="17.40" fill="#d9d8d5"/><rect x="37.64" y="95.65" width="3.35" height="17.40" fill="#d9d8d5"/><rect x="42.07" y="95.65" width="3.35" height="17.40" fill="#d9d8d5"/><rect x="46.50" y="95.65" width="3.35" height="17.40" fill="#d9d8d5"/><rect x="50.93" y="95.65" width="3.35" height="17.40" fill="#d9d8d5"/><rect x="55.36" y="95.65" width="3.35" height="17.40" fill="#d9d8d5"/><rect x="59.79" y="95.65" width="3.35" height="17.40" fill="#d9d8d5"/><rect x="64.22" y="95.65" width="3.35" height="17.40" fill="#d9d8d5"/><rect x="68.65" y="95.65" width="3.35" height="17.40" fill="#d9d8d5"/><rect x="73.08" y="95.65" width="3.35" height="17.40" fill="#b2232b"/><rect x="77.51" y="95.65" width="3.35" height="17.40" fill="#b2232b"/><rect x="81.94" y="95.65" width="3.35" height="17.40" fill="#f3841c"/><rect x="86.37" y="95.65" width="3.35" height="17.40" fill="#d9d8d5"/><rect x="90.80" y="95.65" width="3.35" height="17.40" fill="#f3841c"/><rect x="95.23" y="95.65" width="3.35" height="17.40" fill="#d9d8d5"/><rect x="99.66" y="95.65" width="3.35" height="17.40" fill="#d9d8d5"/><rect x="104.09" y="95.65" width="3.35" height="17.40" fill="#b2232b"/><rect x="108.52" y="95.65" width="3.35" height="17.40" fill="#d9d8d5"/><rect x="112.95" y="95.65" width="3.35" height="17.40" fill="#d9d8d5"/><rect x="117.38" y="95.65" width="3.35" height="17.40" fill="#d9d8d5"/><rect x="121.81" y="95.65" width="3.35" height="17.40" fill="#d9d8d5"/><rect x="126.24" y="95.65" width="3.35" height="17.40" fill="#d9d8d5"/><rect x="130.67" y="95.65" width="3.35" height="17.40" fill="#d9d8d5"/><rect x="135.10" y="95.65" width="3.35" height="17.40" fill="#d9d8d5"/><rect x="139.53" y="95.65" width="3.35" height="17.40" fill="#d9d8d5"/><rect x="143.96" y="95.65" width="3.35" height="17.40" fill="#f3841c"/><rect x="148.39" y="95.65" width="3.35" height="17.40" fill="#d9d8d5"/><rect x="152.82" y="95.65" width="3.35" height="17.40" fill="#d9d8d5"/><rect x="157.25" y="95.65" width="3.35" height="17.40" fill="#d9d8d5"/><rect x="161.68" y="95.65" width="3.35" height="17.40" fill="#d9d8d5"/><rect x="166.11" y="95.65" width="3.35" height="17.40" fill="#d9d8d5"/><rect x="170.54" y="95.65" width="3.35" height="17.40" fill="#d9d8d5"/><rect x="174.97" y="95.65" width="3.35" height="17.40" fill="#d9d8d5"/><rect x="179.40" y="95.65" width="3.35" height="17.40" fill="#d9d8d5"/><rect x="183.83" y="95.65" width="3.35" height="17.40" fill="#d9d8d5"/><rect x="188.26" y="95.65" width="3.35" height="17.40" fill="#b2232b"/><rect x="192.69" y="95.65" width="3.35" height="17.40" fill="#d9d8d5"/><rect x="197.12" y="95.65" width="3.35" height="17.40" fill="#b2232b"/><rect x="201.55" y="95.65" width="3.35" height="17.40" fill="#b2232b"/><rect x="205.98" y="95.65" width="3.35" height="17.40" fill="#b2232b"/><rect x="210.41" y="95.65" width="3.35" height="17.40" fill="#d9d8d5"/><rect x="214.84" y="95.65" width="3.35" height="17.40" fill="#b2232b"/><rect x="219.27" y="95.65" width="3.35" height="17.40" fill="#d9d8d5"/><rect x="223.70" y="95.65" width="3.35" height="17.40" fill="#b2232b"/><rect x="228.13" y="95.65" width="3.35" height="17.40" fill="#f3841c"/><rect x="232.56" y="95.65" width="3.35" height="17.40" fill="#d9d8d5"/><rect x="236.99" y="95.65" width="3.35" height="17.40" fill="#d9d8d5"/><rect x="241.42" y="95.65" width="3.35" height="17.40" fill="#d9d8d5"/><rect x="245.85" y="95.65" width="3.35" height="17.40" fill="#d9d8d5"/><rect x="250.28" y="95.65" width="3.35" height="17.40" fill="#d9d8d5"/><rect x="254.71" y="95.65" width="3.35" height="17.40" fill="#d9d8d5"/><rect x="259.14" y="95.65" width="3.35" height="17.40" fill="#f3841c"/><rect x="263.57" y="95.65" width="3.35" height="17.40" fill="#f3841c"/><rect x="268.00" y="95.65" width="3.35" height="17.40" fill="#d9d8d5"/><rect x="272.43" y="95.65" width="3.35" height="17.40" fill="#d9d8d5"/><rect x="276.86" y="95.65" width="3.35" height="17.40" fill="#d9d8d5"/><rect x="281.29" y="95.65" width="3.35" height="17.40" fill="#b2232b"/><rect x="285.72" y="95.65" width="3.35" height="17.40" fill="#d9d8d5"/><rect x="290.15" y="95.65" width="3.35" height="17.40" fill="#d9d8d5"/><rect x="294.58" y="95.65" width="3.35" height="17.40" fill="#d9d8d5"/><rect x="299.01" y="95.65" width="3.35" height="17.40" fill="#b2232b"/><rect x="303.44" y="95.65" width="3.35" height="17.40" fill="#d9d8d5"/><rect x="307.87" y="95.65" width="3.35" height="17.40" fill="#d9d8d5"/><rect x="312.30" y="95.65" width="3.35" height="17.40" fill="#d9d8d5"/><rect x="316.73" y="95.65" width="3.35" height="17.40" fill="#d9d8d5"/><rect x="321.16" y="95.65" width="3.35" height="17.40" fill="#d9d8d5"/><rect x="325.59" y="95.65" width="3.35" height="17.40" fill="#d9d8d5"/><rect x="330.02" y="95.65" width="3.35" height="17.40" fill="#d9d8d5"/><rect x="334.45" y="95.65" width="3.35" height="17.40" fill="#d9d8d5"/><rect x="338.88" y="95.65" width="3.35" height="17.40" fill="#d9d8d5"/><rect x="343.31" y="95.65" width="3.35" height="17.40" fill="#d9d8d5"/><rect x="347.74" y="95.65" width="3.35" height="17.40" fill="#d9d8d5"/><rect x="352.17" y="95.65" width="3.35" height="17.40" fill="#d9d8d5"/><rect x="356.60" y="95.65" width="3.35" height="17.40" fill="#d9d8d5"/><rect x="361.03" y="95.65" width="3.35" height="17.40" fill="#d9d8d5"/><rect x="365.46" y="95.65" width="3.35" height="17.40" fill="#d9d8d5"/><rect x="369.89" y="95.65" width="3.35" height="17.40" fill="#d9d8d5"/><rect x="374.32" y="95.65" width="3.35" height="17.40" fill="#b2232b"/><rect x="378.75" y="95.65" width="3.35" height="17.40" fill="#d9d8d5"/><rect x="383.18" y="95.65" width="3.35" height="17.40" fill="#d9d8d5"/><rect x="387.61" y="95.65" width="3.35" height="17.40" fill="#d9d8d5"/><rect x="392.04" y="95.65" width="3.35" height="17.40" fill="#f3841c"/><rect x="396.47" y="95.65" width="3.35" height="17.40" fill="#d9d8d5"/><rect x="400.90" y="95.65" width="3.35" height="17.40" fill="#d9d8d5"/><rect x="405.33" y="95.65" width="3.35" height="17.40" fill="#d9d8d5"/><rect x="409.76" y="95.65" width="3.35" height="17.40" fill="#d9d8d5"/><rect x="414.19" y="95.65" width="3.35" height="17.40" fill="#d9d8d5"/><rect x="418.62" y="95.65" width="3.35" height="17.40" fill="#d9d8d5"/><rect x="423.05" y="95.65" width="3.35" height="17.40" fill="#d9d8d5"/><rect x="427.48" y="95.65" width="3.35" height="17.40" fill="#d9d8d5"/><rect x="431.91" y="95.65" width="3.35" height="17.40" fill="#d9d8d5"/><rect x="440.77" y="95.65" width="3.35" height="17.40" fill="#d9d8d5"/><rect x="2.20" y="114.48" width="3.35" height="17.40" fill="#d9d8d5"/><rect x="6.63" y="114.48" width="3.35" height="17.40" fill="#d9d8d5"/><rect x="11.06" y="114.48" width="3.35" height="17.40" fill="#d9d8d5"/><rect x="15.49" y="114.48" width="3.35" height="17.40" fill="#d9d8d5"/><rect x="19.92" y="114.48" width="3.35" height="17.40" fill="#f3841c"/><rect x="24.35" y="114.48" width="3.35" height="17.40" fill="#d9d8d5"/><rect x="28.78" y="114.48" width="3.35" height="17.40" fill="#d9d8d5"/><rect x="33.21" y="114.48" width="3.35" height="17.40" fill="#d9d8d5"/><rect x="37.64" y="114.48" width="3.35" height="17.40" fill="#d9d8d5"/><rect x="42.07" y="114.48" width="3.35" height="17.40" fill="#d9d8d5"/><rect x="46.50" y="114.48" width="3.35" height="17.40" fill="#d9d8d5"/><rect x="50.93" y="114.48" width="3.35" height="17.40" fill="#d9d8d5"/><rect x="55.36" y="114.48" width="3.35" height="17.40" fill="#d9d8d5"/><rect x="59.79" y="114.48" width="3.35" height="17.40" fill="#d9d8d5"/><rect x="64.22" y="114.48" width="3.35" height="17.40" fill="#d9d8d5"/><rect x="68.65" y="114.48" width="3.35" height="17.40" fill="#d9d8d5"/><rect x="73.08" y="114.48" width="3.35" height="17.40" fill="#b2232b"/><rect x="77.51" y="114.48" width="3.35" height="17.40" fill="#d9d8d5"/><rect x="81.94" y="114.48" width="3.35" height="17.40" fill="#d9d8d5"/><rect x="86.37" y="114.48" width="3.35" height="17.40" fill="#d9d8d5"/><rect x="90.80" y="114.48" width="3.35" height="17.40" fill="#b2232b"/><rect x="95.23" y="114.48" width="3.35" height="17.40" fill="#d9d8d5"/><rect x="99.66" y="114.48" width="3.35" height="17.40" fill="#d9d8d5"/><rect x="104.09" y="114.48" width="3.35" height="17.40" fill="#f3841c"/><rect x="108.52" y="114.48" width="3.35" height="17.40" fill="#b2232b"/><rect x="112.95" y="114.48" width="3.35" height="17.40" fill="#b2232b"/><rect x="117.38" y="114.48" width="3.35" height="17.40" fill="#b2232b"/><rect x="121.81" y="114.48" width="3.35" height="17.40" fill="#d9d8d5"/><rect x="126.24" y="114.48" width="3.35" height="17.40" fill="#d9d8d5"/><rect x="130.67" y="114.48" width="3.35" height="17.40" fill="#d9d8d5"/><rect x="135.10" y="114.48" width="3.35" height="17.40" fill="#d9d8d5"/><rect x="139.53" y="114.48" width="3.35" height="17.40" fill="#d9d8d5"/><rect x="143.96" y="114.48" width="3.35" height="17.40" fill="#f3841c"/><rect x="148.39" y="114.48" width="3.35" height="17.40" fill="#b2232b"/><rect x="152.82" y="114.48" width="3.35" height="17.40" fill="#d9d8d5"/><rect x="157.25" y="114.48" width="3.35" height="17.40" fill="#d9d8d5"/><rect x="161.68" y="114.48" width="3.35" height="17.40" fill="#d9d8d5"/><rect x="166.11" y="114.48" width="3.35" height="17.40" fill="#d9d8d5"/><rect x="170.54" y="114.48" width="3.35" height="17.40" fill="#d9d8d5"/><rect x="174.97" y="114.48" width="3.35" height="17.40" fill="#d9d8d5"/><rect x="179.40" y="114.48" width="3.35" height="17.40" fill="#d9d8d5"/><rect x="183.83" y="114.48" width="3.35" height="17.40" fill="#d9d8d5"/><rect x="188.26" y="114.48" width="3.35" height="17.40" fill="#d9d8d5"/><rect x="192.69" y="114.48" width="3.35" height="17.40" fill="#d9d8d5"/><rect x="197.12" y="114.48" width="3.35" height="17.40" fill="#b2232b"/><rect x="201.55" y="114.48" width="3.35" height="17.40" fill="#d9d8d5"/><rect x="205.98" y="114.48" width="3.35" height="17.40" fill="#d9d8d5"/><rect x="210.41" y="114.48" width="3.35" height="17.40" fill="#d9d8d5"/><rect x="214.84" y="114.48" width="3.35" height="17.40" fill="#d9d8d5"/><rect x="219.27" y="114.48" width="3.35" height="17.40" fill="#d9d8d5"/><rect x="223.70" y="114.48" width="3.35" height="17.40" fill="#d9d8d5"/><rect x="228.13" y="114.48" width="3.35" height="17.40" fill="#d9d8d5"/><rect x="232.56" y="114.48" width="3.35" height="17.40" fill="#d9d8d5"/><rect x="236.99" y="114.48" width="3.35" height="17.40" fill="#d9d8d5"/><rect x="241.42" y="114.48" width="3.35" height="17.40" fill="#d9d8d5"/><rect x="245.85" y="114.48" width="3.35" height="17.40" fill="#d9d8d5"/><rect x="250.28" y="114.48" width="3.35" height="17.40" fill="#d9d8d5"/><rect x="259.14" y="114.48" width="3.35" height="17.40" fill="#d9d8d5"/><rect x="263.57" y="114.48" width="3.35" height="17.40" fill="#d9d8d5"/><rect x="268.00" y="114.48" width="3.35" height="17.40" fill="#d9d8d5"/><rect x="272.43" y="114.48" width="3.35" height="17.40" fill="#d9d8d5"/><rect x="276.86" y="114.48" width="3.35" height="17.40" fill="#d9d8d5"/><rect x="281.29" y="114.48" width="3.35" height="17.40" fill="#d9d8d5"/><rect x="285.72" y="114.48" width="3.35" height="17.40" fill="#d9d8d5"/><rect x="290.15" y="114.48" width="3.35" height="17.40" fill="#d9d8d5"/><rect x="294.58" y="114.48" width="3.35" height="17.40" fill="#d9d8d5"/><rect x="299.01" y="114.48" width="3.35" height="17.40" fill="#d9d8d5"/><rect x="303.44" y="114.48" width="3.35" height="17.40" fill="#d9d8d5"/><rect x="307.87" y="114.48" width="3.35" height="17.40" fill="#d9d8d5"/><rect x="312.30" y="114.48" width="3.35" height="17.40" fill="#b2232b"/><rect x="316.73" y="114.48" width="3.35" height="17.40" fill="#b2232b"/><rect x="321.16" y="114.48" width="3.35" height="17.40" fill="#f3841c"/><rect x="325.59" y="114.48" width="3.35" height="17.40" fill="#d9d8d5"/><rect x="330.02" y="114.48" width="3.35" height="17.40" fill="#d9d8d5"/><rect x="334.45" y="114.48" width="3.35" height="17.40" fill="#d9d8d5"/><rect x="338.88" y="114.48" width="3.35" height="17.40" fill="#d9d8d5"/><rect x="343.31" y="114.48" width="3.35" height="17.40" fill="#d9d8d5"/><rect x="347.74" y="114.48" width="3.35" height="17.40" fill="#d9d8d5"/><rect x="352.17" y="114.48" width="3.35" height="17.40" fill="#d9d8d5"/><rect x="356.60" y="114.48" width="3.35" height="17.40" fill="#b2232b"/><rect x="361.03" y="114.48" width="3.35" height="17.40" fill="#d9d8d5"/><rect x="365.46" y="114.48" width="3.35" height="17.40" fill="#d9d8d5"/><rect x="369.89" y="114.48" width="3.35" height="17.40" fill="#d9d8d5"/><rect x="374.32" y="114.48" width="3.35" height="17.40" fill="#b2232b"/><rect x="378.75" y="114.48" width="3.35" height="17.40" fill="#b2232b"/><rect x="383.18" y="114.48" width="3.35" height="17.40" fill="#f3841c"/><rect x="387.61" y="114.48" width="3.35" height="17.40" fill="#d9d8d5"/><rect x="392.04" y="114.48" width="3.35" height="17.40" fill="#d9d8d5"/><rect x="396.47" y="114.48" width="3.35" height="17.40" fill="#b2232b"/><rect x="400.90" y="114.48" width="3.35" height="17.40" fill="#d9d8d5"/><rect x="405.33" y="114.48" width="3.35" height="17.40" fill="#d9d8d5"/><rect x="409.76" y="114.48" width="3.35" height="17.40" fill="#d9d8d5"/><rect x="414.19" y="114.48" width="3.35" height="17.40" fill="#d9d8d5"/><rect x="418.62" y="114.48" width="3.35" height="17.40" fill="#d9d8d5"/><rect x="423.05" y="114.48" width="3.35" height="17.40" fill="#d9d8d5"/><rect x="427.48" y="114.48" width="3.35" height="17.40" fill="#d9d8d5"/><rect x="440.77" y="114.48" width="3.35" height="17.40" fill="#f3841c"/><rect x="2.20" y="133.31" width="3.35" height="17.40" fill="#d9d8d5"/><rect x="6.63" y="133.31" width="3.35" height="17.40" fill="#d9d8d5"/><rect x="11.06" y="133.31" width="3.35" height="17.40" fill="#d9d8d5"/><rect x="15.49" y="133.31" width="3.35" height="17.40" fill="#d9d8d5"/><rect x="19.92" y="133.31" width="3.35" height="17.40" fill="#f3841c"/><rect x="24.35" y="133.31" width="3.35" height="17.40" fill="#b2232b"/><rect x="28.78" y="133.31" width="3.35" height="17.40" fill="#d9d8d5"/><rect x="33.21" y="133.31" width="3.35" height="17.40" fill="#d9d8d5"/><rect x="37.64" y="133.31" width="3.35" height="17.40" fill="#d9d8d5"/><rect x="42.07" y="133.31" width="3.35" height="17.40" fill="#f3841c"/><rect x="46.50" y="133.31" width="3.35" height="17.40" fill="#f3841c"/><rect x="50.93" y="133.31" width="3.35" height="17.40" fill="#d9d8d5"/><rect x="55.36" y="133.31" width="3.35" height="17.40" fill="#d9d8d5"/><rect x="59.79" y="133.31" width="3.35" height="17.40" fill="#d9d8d5"/><rect x="64.22" y="133.31" width="3.35" height="17.40" fill="#d9d8d5"/><rect x="68.65" y="133.31" width="3.35" height="17.40" fill="#b2232b"/><rect x="73.08" y="133.31" width="3.35" height="17.40" fill="#d9d8d5"/><rect x="77.51" y="133.31" width="3.35" height="17.40" fill="#d9d8d5"/><rect x="81.94" y="133.31" width="3.35" height="17.40" fill="#d9d8d5"/><rect x="86.37" y="133.31" width="3.35" height="17.40" fill="#d9d8d5"/><rect x="90.80" y="133.31" width="3.35" height="17.40" fill="#d9d8d5"/><rect x="95.23" y="133.31" width="3.35" height="17.40" fill="#b2232b"/><rect x="99.66" y="133.31" width="3.35" height="17.40" fill="#d9d8d5"/><rect x="104.09" y="133.31" width="3.35" height="17.40" fill="#d9d8d5"/><rect x="108.52" y="133.31" width="3.35" height="17.40" fill="#b2232b"/><rect x="112.95" y="133.31" width="3.35" height="17.40" fill="#b2232b"/><rect x="117.38" y="133.31" width="3.35" height="17.40" fill="#d9d8d5"/><rect x="121.81" y="133.31" width="3.35" height="17.40" fill="#d9d8d5"/><rect x="126.24" y="133.31" width="3.35" height="17.40" fill="#d9d8d5"/><rect x="130.67" y="133.31" width="3.35" height="17.40" fill="#d9d8d5"/><rect x="135.10" y="133.31" width="3.35" height="17.40" fill="#d9d8d5"/><rect x="139.53" y="133.31" width="3.35" height="17.40" fill="#d9d8d5"/><rect x="143.96" y="133.31" width="3.35" height="17.40" fill="#d9d8d5"/><rect x="148.39" y="133.31" width="3.35" height="17.40" fill="#d9d8d5"/><rect x="152.82" y="133.31" width="3.35" height="17.40" fill="#d9d8d5"/><rect x="157.25" y="133.31" width="3.35" height="17.40" fill="#d9d8d5"/><rect x="161.68" y="133.31" width="3.35" height="17.40" fill="#d9d8d5"/><rect x="166.11" y="133.31" width="3.35" height="17.40" fill="#d9d8d5"/><rect x="170.54" y="133.31" width="3.35" height="17.40" fill="#d9d8d5"/><rect x="174.97" y="133.31" width="3.35" height="17.40" fill="#d9d8d5"/><rect x="179.40" y="133.31" width="3.35" height="17.40" fill="#d9d8d5"/><rect x="183.83" y="133.31" width="3.35" height="17.40" fill="#d9d8d5"/><rect x="188.26" y="133.31" width="3.35" height="17.40" fill="#d9d8d5"/><rect x="192.69" y="133.31" width="3.35" height="17.40" fill="#d9d8d5"/><rect x="197.12" y="133.31" width="3.35" height="17.40" fill="#d9d8d5"/><rect x="201.55" y="133.31" width="3.35" height="17.40" fill="#d9d8d5"/><rect x="205.98" y="133.31" width="3.35" height="17.40" fill="#d9d8d5"/><rect x="210.41" y="133.31" width="3.35" height="17.40" fill="#d9d8d5"/><rect x="214.84" y="133.31" width="3.35" height="17.40" fill="#d9d8d5"/><rect x="219.27" y="133.31" width="3.35" height="17.40" fill="#b2232b"/><rect x="223.70" y="133.31" width="3.35" height="17.40" fill="#d9d8d5"/><rect x="228.13" y="133.31" width="3.35" height="17.40" fill="#d9d8d5"/><rect x="232.56" y="133.31" width="3.35" height="17.40" fill="#d9d8d5"/><rect x="236.99" y="133.31" width="3.35" height="17.40" fill="#d9d8d5"/><rect x="241.42" y="133.31" width="3.35" height="17.40" fill="#d9d8d5"/><rect x="245.85" y="133.31" width="3.35" height="17.40" fill="#d9d8d5"/><rect x="250.28" y="133.31" width="3.35" height="17.40" fill="#d9d8d5"/><rect x="254.71" y="133.31" width="3.35" height="17.40" fill="#f3841c"/><rect x="259.14" y="133.31" width="3.35" height="17.40" fill="#d9d8d5"/><rect x="263.57" y="133.31" width="3.35" height="17.40" fill="#d9d8d5"/><rect x="268.00" y="133.31" width="3.35" height="17.40" fill="#d9d8d5"/><rect x="272.43" y="133.31" width="3.35" height="17.40" fill="#d9d8d5"/><rect x="281.29" y="133.31" width="3.35" height="17.40" fill="#d9d8d5"/><rect x="285.72" y="133.31" width="3.35" height="17.40" fill="#d9d8d5"/><rect x="290.15" y="133.31" width="3.35" height="17.40" fill="#d9d8d5"/><rect x="294.58" y="133.31" width="3.35" height="17.40" fill="#d9d8d5"/><rect x="299.01" y="133.31" width="3.35" height="17.40" fill="#d9d8d5"/><rect x="303.44" y="133.31" width="3.35" height="17.40" fill="#d9d8d5"/><rect x="307.87" y="133.31" width="3.35" height="17.40" fill="#d9d8d5"/><rect x="312.30" y="133.31" width="3.35" height="17.40" fill="#d9d8d5"/><rect x="316.73" y="133.31" width="3.35" height="17.40" fill="#d9d8d5"/><rect x="321.16" y="133.31" width="3.35" height="17.40" fill="#d9d8d5"/><rect x="325.59" y="133.31" width="3.35" height="17.40" fill="#f3841c"/><rect x="330.02" y="133.31" width="3.35" height="17.40" fill="#d9d8d5"/><rect x="334.45" y="133.31" width="3.35" height="17.40" fill="#d9d8d5"/><rect x="338.88" y="133.31" width="3.35" height="17.40" fill="#d9d8d5"/><rect x="343.31" y="133.31" width="3.35" height="17.40" fill="#d9d8d5"/><rect x="347.74" y="133.31" width="3.35" height="17.40" fill="#d9d8d5"/><rect x="352.17" y="133.31" width="3.35" height="17.40" fill="#d9d8d5"/><rect x="356.60" y="133.31" width="3.35" height="17.40" fill="#b2232b"/><rect x="361.03" y="133.31" width="3.35" height="17.40" fill="#d9d8d5"/><rect x="365.46" y="133.31" width="3.35" height="17.40" fill="#d9d8d5"/><rect x="369.89" y="133.31" width="3.35" height="17.40" fill="#d9d8d5"/><rect x="374.32" y="133.31" width="3.35" height="17.40" fill="#d9d8d5"/><rect x="378.75" y="133.31" width="3.35" height="17.40" fill="#d9d8d5"/><rect x="383.18" y="133.31" width="3.35" height="17.40" fill="#b2232b"/><rect x="387.61" y="133.31" width="3.35" height="17.40" fill="#d9d8d5"/><rect x="392.04" y="133.31" width="3.35" height="17.40" fill="#d9d8d5"/><rect x="396.47" y="133.31" width="3.35" height="17.40" fill="#b2232b"/><rect x="400.90" y="133.31" width="3.35" height="17.40" fill="#b2232b"/><rect x="405.33" y="133.31" width="3.35" height="17.40" fill="#b2232b"/><rect x="409.76" y="133.31" width="3.35" height="17.40" fill="#d9d8d5"/><rect x="414.19" y="133.31" width="3.35" height="17.40" fill="#d9d8d5"/><rect x="418.62" y="133.31" width="3.35" height="17.40" fill="#d9d8d5"/><rect x="423.05" y="133.31" width="3.35" height="17.40" fill="#d9d8d5"/><rect x="427.48" y="133.31" width="3.35" height="17.40" fill="#d9d8d5"/><rect x="431.91" y="133.31" width="3.35" height="17.40" fill="#d9d8d5"/><rect x="2.20" y="152.14" width="3.35" height="17.40" fill="#d9d8d5"/><rect x="6.63" y="152.14" width="3.35" height="17.40" fill="#d9d8d5"/><rect x="11.06" y="152.14" width="3.35" height="17.40" fill="#d9d8d5"/><rect x="15.49" y="152.14" width="3.35" height="17.40" fill="#d9d8d5"/><rect x="19.92" y="152.14" width="3.35" height="17.40" fill="#d9d8d5"/><rect x="24.35" y="152.14" width="3.35" height="17.40" fill="#d9d8d5"/><rect x="28.78" y="152.14" width="3.35" height="17.40" fill="#d9d8d5"/><rect x="33.21" y="152.14" width="3.35" height="17.40" fill="#d9d8d5"/><rect x="37.64" y="152.14" width="3.35" height="17.40" fill="#d9d8d5"/><rect x="42.07" y="152.14" width="3.35" height="17.40" fill="#d9d8d5"/><rect x="46.50" y="152.14" width="3.35" height="17.40" fill="#d9d8d5"/><rect x="50.93" y="152.14" width="3.35" height="17.40" fill="#d9d8d5"/><rect x="55.36" y="152.14" width="3.35" height="17.40" fill="#d9d8d5"/><rect x="59.79" y="152.14" width="3.35" height="17.40" fill="#d9d8d5"/><rect x="64.22" y="152.14" width="3.35" height="17.40" fill="#d9d8d5"/><rect x="68.65" y="152.14" width="3.35" height="17.40" fill="#d9d8d5"/><rect x="73.08" y="152.14" width="3.35" height="17.40" fill="#d9d8d5"/><rect x="77.51" y="152.14" width="3.35" height="17.40" fill="#d9d8d5"/><rect x="81.94" y="152.14" width="3.35" height="17.40" fill="#d9d8d5"/><rect x="86.37" y="152.14" width="3.35" height="17.40" fill="#d9d8d5"/><rect x="90.80" y="152.14" width="3.35" height="17.40" fill="#d9d8d5"/><rect x="95.23" y="152.14" width="3.35" height="17.40" fill="#d9d8d5"/><rect x="99.66" y="152.14" width="3.35" height="17.40" fill="#d9d8d5"/><rect x="104.09" y="152.14" width="3.35" height="17.40" fill="#d9d8d5"/><rect x="108.52" y="152.14" width="3.35" height="17.40" fill="#d9d8d5"/><rect x="112.95" y="152.14" width="3.35" height="17.40" fill="#d9d8d5"/><rect x="117.38" y="152.14" width="3.35" height="17.40" fill="#d9d8d5"/><rect x="121.81" y="152.14" width="3.35" height="17.40" fill="#d9d8d5"/><rect x="126.24" y="152.14" width="3.35" height="17.40" fill="#d9d8d5"/><rect x="130.67" y="152.14" width="3.35" height="17.40" fill="#d9d8d5"/><rect x="135.10" y="152.14" width="3.35" height="17.40" fill="#d9d8d5"/><rect x="139.53" y="152.14" width="3.35" height="17.40" fill="#d9d8d5"/><rect x="143.96" y="152.14" width="3.35" height="17.40" fill="#d9d8d5"/><rect x="148.39" y="152.14" width="3.35" height="17.40" fill="#d9d8d5"/><rect x="152.82" y="152.14" width="3.35" height="17.40" fill="#b2232b"/><rect x="157.25" y="152.14" width="3.35" height="17.40" fill="#b2232b"/><rect x="161.68" y="152.14" width="3.35" height="17.40" fill="#d9d8d5"/><rect x="166.11" y="152.14" width="3.35" height="17.40" fill="#d9d8d5"/><rect x="170.54" y="152.14" width="3.35" height="17.40" fill="#d9d8d5"/><rect x="174.97" y="152.14" width="3.35" height="17.40" fill="#d9d8d5"/><rect x="179.40" y="152.14" width="3.35" height="17.40" fill="#d9d8d5"/><rect x="183.83" y="152.14" width="3.35" height="17.40" fill="#d9d8d5"/><rect x="188.26" y="152.14" width="3.35" height="17.40" fill="#d9d8d5"/><rect x="192.69" y="152.14" width="3.35" height="17.40" fill="#d9d8d5"/><rect x="197.12" y="152.14" width="3.35" height="17.40" fill="#d9d8d5"/><rect x="201.55" y="152.14" width="3.35" height="17.40" fill="#d9d8d5"/><rect x="205.98" y="152.14" width="3.35" height="17.40" fill="#d9d8d5"/><rect x="210.41" y="152.14" width="3.35" height="17.40" fill="#d9d8d5"/><rect x="214.84" y="152.14" width="3.35" height="17.40" fill="#d9d8d5"/><rect x="219.27" y="152.14" width="3.35" height="17.40" fill="#d9d8d5"/><rect x="223.70" y="152.14" width="3.35" height="17.40" fill="#d9d8d5"/><rect x="228.13" y="152.14" width="3.35" height="17.40" fill="#d9d8d5"/><rect x="232.56" y="152.14" width="3.35" height="17.40" fill="#b2232b"/><rect x="236.99" y="152.14" width="3.35" height="17.40" fill="#b2232b"/><rect x="241.42" y="152.14" width="3.35" height="17.40" fill="#b2232b"/><rect x="245.85" y="152.14" width="3.35" height="17.40" fill="#d9d8d5"/><rect x="250.28" y="152.14" width="3.35" height="17.40" fill="#d9d8d5"/><rect x="254.71" y="152.14" width="3.35" height="17.40" fill="#b2232b"/><rect x="259.14" y="152.14" width="3.35" height="17.40" fill="#d9d8d5"/><rect x="263.57" y="152.14" width="3.35" height="17.40" fill="#d9d8d5"/><rect x="268.00" y="152.14" width="3.35" height="17.40" fill="#d9d8d5"/><rect x="272.43" y="152.14" width="3.35" height="17.40" fill="#d9d8d5"/><rect x="276.86" y="152.14" width="3.35" height="17.40" fill="#d9d8d5"/><rect x="281.29" y="152.14" width="3.35" height="17.40" fill="#d9d8d5"/><rect x="285.72" y="152.14" width="3.35" height="17.40" fill="#d9d8d5"/><rect x="290.15" y="152.14" width="3.35" height="17.40" fill="#d9d8d5"/><rect x="294.58" y="152.14" width="3.35" height="17.40" fill="#d9d8d5"/><rect x="299.01" y="152.14" width="3.35" height="17.40" fill="#d9d8d5"/><rect x="303.44" y="152.14" width="3.35" height="17.40" fill="#b2232b"/><rect x="307.87" y="152.14" width="3.35" height="17.40" fill="#d9d8d5"/><rect x="312.30" y="152.14" width="3.35" height="17.40" fill="#d9d8d5"/><rect x="316.73" y="152.14" width="3.35" height="17.40" fill="#d9d8d5"/><rect x="321.16" y="152.14" width="3.35" height="17.40" fill="#d9d8d5"/><rect x="325.59" y="152.14" width="3.35" height="17.40" fill="#d9d8d5"/><rect x="330.02" y="152.14" width="3.35" height="17.40" fill="#b2232b"/><rect x="334.45" y="152.14" width="3.35" height="17.40" fill="#b2232b"/><rect x="338.88" y="152.14" width="3.35" height="17.40" fill="#d9d8d5"/><rect x="343.31" y="152.14" width="3.35" height="17.40" fill="#d9d8d5"/><rect x="347.74" y="152.14" width="3.35" height="17.40" fill="#d9d8d5"/><rect x="352.17" y="152.14" width="3.35" height="17.40" fill="#d9d8d5"/><rect x="356.60" y="152.14" width="3.35" height="17.40" fill="#d9d8d5"/><rect x="361.03" y="152.14" width="3.35" height="17.40" fill="#d9d8d5"/><rect x="365.46" y="152.14" width="3.35" height="17.40" fill="#d9d8d5"/><rect x="369.89" y="152.14" width="3.35" height="17.40" fill="#d9d8d5"/><rect x="374.32" y="152.14" width="3.35" height="17.40" fill="#d9d8d5"/><rect x="378.75" y="152.14" width="3.35" height="17.40" fill="#d9d8d5"/><rect x="383.18" y="152.14" width="3.35" height="17.40" fill="#d9d8d5"/><rect x="387.61" y="152.14" width="3.35" height="17.40" fill="#d9d8d5"/><rect x="392.04" y="152.14" width="3.35" height="17.40" fill="#d9d8d5"/><rect x="396.47" y="152.14" width="3.35" height="17.40" fill="#d9d8d5"/><rect x="400.90" y="152.14" width="3.35" height="17.40" fill="#b2232b"/><rect x="405.33" y="152.14" width="3.35" height="17.40" fill="#d9d8d5"/><rect x="409.76" y="152.14" width="3.35" height="17.40" fill="#d9d8d5"/><rect x="414.19" y="152.14" width="3.35" height="17.40" fill="#d9d8d5"/><rect x="418.62" y="152.14" width="3.35" height="17.40" fill="#d9d8d5"/><rect x="423.05" y="152.14" width="3.35" height="17.40" fill="#d9d8d5"/><rect x="427.48" y="152.14" width="3.35" height="17.40" fill="#d9d8d5"/><rect x="431.91" y="152.14" width="3.35" height="17.40" fill="#d9d8d5"/><rect x="436.34" y="152.14" width="3.35" height="17.40" fill="#d9d8d5"/><rect x="2.20" y="170.97" width="3.35" height="17.40" fill="#d9d8d5"/><rect x="6.63" y="170.97" width="3.35" height="17.40" fill="#d9d8d5"/><rect x="11.06" y="170.97" width="3.35" height="17.40" fill="#d9d8d5"/><rect x="15.49" y="170.97" width="3.35" height="17.40" fill="#b2232b"/><rect x="19.92" y="170.97" width="3.35" height="17.40" fill="#d9d8d5"/><rect x="24.35" y="170.97" width="3.35" height="17.40" fill="#d9d8d5"/><rect x="28.78" y="170.97" width="3.35" height="17.40" fill="#b2232b"/><rect x="37.64" y="170.97" width="3.35" height="17.40" fill="#d9d8d5"/><rect x="42.07" y="170.97" width="3.35" height="17.40" fill="#b2232b"/><rect x="46.50" y="170.97" width="3.35" height="17.40" fill="#d9d8d5"/><rect x="50.93" y="170.97" width="3.35" height="17.40" fill="#d9d8d5"/><rect x="55.36" y="170.97" width="3.35" height="17.40" fill="#d9d8d5"/><rect x="59.79" y="170.97" width="3.35" height="17.40" fill="#d9d8d5"/><rect x="64.22" y="170.97" width="3.35" height="17.40" fill="#d9d8d5"/><rect x="68.65" y="170.97" width="3.35" height="17.40" fill="#d9d8d5"/><rect x="73.08" y="170.97" width="3.35" height="17.40" fill="#d9d8d5"/><rect x="77.51" y="170.97" width="3.35" height="17.40" fill="#d9d8d5"/><rect x="81.94" y="170.97" width="3.35" height="17.40" fill="#b2232b"/><rect x="86.37" y="170.97" width="3.35" height="17.40" fill="#d9d8d5"/><rect x="90.80" y="170.97" width="3.35" height="17.40" fill="#d9d8d5"/><rect x="95.23" y="170.97" width="3.35" height="17.40" fill="#d9d8d5"/><rect x="99.66" y="170.97" width="3.35" height="17.40" fill="#d9d8d5"/><rect x="104.09" y="170.97" width="3.35" height="17.40" fill="#d9d8d5"/><rect x="108.52" y="170.97" width="3.35" height="17.40" fill="#d9d8d5"/><rect x="112.95" y="170.97" width="3.35" height="17.40" fill="#d9d8d5"/><rect x="117.38" y="170.97" width="3.35" height="17.40" fill="#d9d8d5"/><rect x="121.81" y="170.97" width="3.35" height="17.40" fill="#d9d8d5"/><rect x="126.24" y="170.97" width="3.35" height="17.40" fill="#d9d8d5"/><rect x="130.67" y="170.97" width="3.35" height="17.40" fill="#d9d8d5"/><rect x="135.10" y="170.97" width="3.35" height="17.40" fill="#d9d8d5"/><rect x="139.53" y="170.97" width="3.35" height="17.40" fill="#d9d8d5"/><rect x="143.96" y="170.97" width="3.35" height="17.40" fill="#f3841c"/><rect x="148.39" y="170.97" width="3.35" height="17.40" fill="#d9d8d5"/><rect x="152.82" y="170.97" width="3.35" height="17.40" fill="#d9d8d5"/><rect x="157.25" y="170.97" width="3.35" height="17.40" fill="#d9d8d5"/><rect x="161.68" y="170.97" width="3.35" height="17.40" fill="#f3841c"/><rect x="166.11" y="170.97" width="3.35" height="17.40" fill="#d9d8d5"/><rect x="170.54" y="170.97" width="3.35" height="17.40" fill="#d9d8d5"/><rect x="174.97" y="170.97" width="3.35" height="17.40" fill="#d9d8d5"/><rect x="179.40" y="170.97" width="3.35" height="17.40" fill="#d9d8d5"/><rect x="183.83" y="170.97" width="3.35" height="17.40" fill="#d9d8d5"/><rect x="188.26" y="170.97" width="3.35" height="17.40" fill="#d9d8d5"/><rect x="192.69" y="170.97" width="3.35" height="17.40" fill="#d9d8d5"/><rect x="197.12" y="170.97" width="3.35" height="17.40" fill="#d9d8d5"/><rect x="201.55" y="170.97" width="3.35" height="17.40" fill="#d9d8d5"/><rect x="205.98" y="170.97" width="3.35" height="17.40" fill="#d9d8d5"/><rect x="210.41" y="170.97" width="3.35" height="17.40" fill="#d9d8d5"/><rect x="214.84" y="170.97" width="3.35" height="17.40" fill="#d9d8d5"/><rect x="219.27" y="170.97" width="3.35" height="17.40" fill="#d9d8d5"/><rect x="223.70" y="170.97" width="3.35" height="17.40" fill="#b2232b"/><rect x="228.13" y="170.97" width="3.35" height="17.40" fill="#d9d8d5"/><rect x="232.56" y="170.97" width="3.35" height="17.40" fill="#b2232b"/><rect x="236.99" y="170.97" width="3.35" height="17.40" fill="#d9d8d5"/><rect x="241.42" y="170.97" width="3.35" height="17.40" fill="#d9d8d5"/><rect x="245.85" y="170.97" width="3.35" height="17.40" fill="#b2232b"/><rect x="250.28" y="170.97" width="3.35" height="17.40" fill="#d9d8d5"/><rect x="254.71" y="170.97" width="3.35" height="17.40" fill="#d9d8d5"/><rect x="259.14" y="170.97" width="3.35" height="17.40" fill="#d9d8d5"/><rect x="263.57" y="170.97" width="3.35" height="17.40" fill="#d9d8d5"/><rect x="268.00" y="170.97" width="3.35" height="17.40" fill="#d9d8d5"/><rect x="272.43" y="170.97" width="3.35" height="17.40" fill="#d9d8d5"/><rect x="276.86" y="170.97" width="3.35" height="17.40" fill="#d9d8d5"/><rect x="281.29" y="170.97" width="3.35" height="17.40" fill="#d9d8d5"/><rect x="285.72" y="170.97" width="3.35" height="17.40" fill="#d9d8d5"/><rect x="290.15" y="170.97" width="3.35" height="17.40" fill="#d9d8d5"/><rect x="294.58" y="170.97" width="3.35" height="17.40" fill="#d9d8d5"/><rect x="299.01" y="170.97" width="3.35" height="17.40" fill="#d9d8d5"/><rect x="303.44" y="170.97" width="3.35" height="17.40" fill="#d9d8d5"/><rect x="307.87" y="170.97" width="3.35" height="17.40" fill="#d9d8d5"/><rect x="312.30" y="170.97" width="3.35" height="17.40" fill="#d9d8d5"/><rect x="316.73" y="170.97" width="3.35" height="17.40" fill="#d9d8d5"/><rect x="321.16" y="170.97" width="3.35" height="17.40" fill="#d9d8d5"/><rect x="325.59" y="170.97" width="3.35" height="17.40" fill="#d9d8d5"/><rect x="330.02" y="170.97" width="3.35" height="17.40" fill="#d9d8d5"/><rect x="334.45" y="170.97" width="3.35" height="17.40" fill="#d9d8d5"/><rect x="338.88" y="170.97" width="3.35" height="17.40" fill="#d9d8d5"/><rect x="343.31" y="170.97" width="3.35" height="17.40" fill="#d9d8d5"/><rect x="347.74" y="170.97" width="3.35" height="17.40" fill="#d9d8d5"/><rect x="352.17" y="170.97" width="3.35" height="17.40" fill="#d9d8d5"/><rect x="356.60" y="170.97" width="3.35" height="17.40" fill="#d9d8d5"/><rect x="361.03" y="170.97" width="3.35" height="17.40" fill="#d9d8d5"/><rect x="365.46" y="170.97" width="3.35" height="17.40" fill="#d9d8d5"/><rect x="369.89" y="170.97" width="3.35" height="17.40" fill="#d9d8d5"/><rect x="374.32" y="170.97" width="3.35" height="17.40" fill="#d9d8d5"/><rect x="378.75" y="170.97" width="3.35" height="17.40" fill="#d9d8d5"/><rect x="383.18" y="170.97" width="3.35" height="17.40" fill="#d9d8d5"/><rect x="387.61" y="170.97" width="3.35" height="17.40" fill="#d9d8d5"/><rect x="392.04" y="170.97" width="3.35" height="17.40" fill="#d9d8d5"/><rect x="396.47" y="170.97" width="3.35" height="17.40" fill="#d9d8d5"/><rect x="400.90" y="170.97" width="3.35" height="17.40" fill="#d9d8d5"/><rect x="405.33" y="170.97" width="3.35" height="17.40" fill="#d9d8d5"/><rect x="409.76" y="170.97" width="3.35" height="17.40" fill="#b2232b"/><rect x="414.19" y="170.97" width="3.35" height="17.40" fill="#b2232b"/><rect x="418.62" y="170.97" width="3.35" height="17.40" fill="#d9d8d5"/><rect x="423.05" y="170.97" width="3.35" height="17.40" fill="#d9d8d5"/><rect x="427.48" y="170.97" width="3.35" height="17.40" fill="#d9d8d5"/><rect x="431.91" y="170.97" width="3.35" height="17.40" fill="#d9d8d5"/><rect x="436.34" y="170.97" width="3.35" height="17.40" fill="#d9d8d5"/><rect x="2.20" y="189.80" width="3.35" height="17.40" fill="#b2232b"/><rect x="6.63" y="189.80" width="3.35" height="17.40" fill="#d9d8d5"/><rect x="11.06" y="189.80" width="3.35" height="17.40" fill="#d9d8d5"/><rect x="15.49" y="189.80" width="3.35" height="17.40" fill="#d9d8d5"/><rect x="19.92" y="189.80" width="3.35" height="17.40" fill="#d9d8d5"/><rect x="24.35" y="189.80" width="3.35" height="17.40" fill="#d9d8d5"/><rect x="28.78" y="189.80" width="3.35" height="17.40" fill="#d9d8d5"/><rect x="33.21" y="189.80" width="3.35" height="17.40" fill="#d9d8d5"/><rect x="37.64" y="189.80" width="3.35" height="17.40" fill="#b2232b"/><rect x="42.07" y="189.80" width="3.35" height="17.40" fill="#d9d8d5"/><rect x="46.50" y="189.80" width="3.35" height="17.40" fill="#d9d8d5"/><rect x="50.93" y="189.80" width="3.35" height="17.40" fill="#d9d8d5"/><rect x="55.36" y="189.80" width="3.35" height="17.40" fill="#d9d8d5"/><rect x="59.79" y="189.80" width="3.35" height="17.40" fill="#d9d8d5"/><rect x="64.22" y="189.80" width="3.35" height="17.40" fill="#d9d8d5"/><rect x="68.65" y="189.80" width="3.35" height="17.40" fill="#d9d8d5"/><rect x="73.08" y="189.80" width="3.35" height="17.40" fill="#d9d8d5"/><rect x="77.51" y="189.80" width="3.35" height="17.40" fill="#d9d8d5"/><rect x="81.94" y="189.80" width="3.35" height="17.40" fill="#d9d8d5"/><rect x="86.37" y="189.80" width="3.35" height="17.40" fill="#d9d8d5"/><rect x="90.80" y="189.80" width="3.35" height="17.40" fill="#b2232b"/><rect x="95.23" y="189.80" width="3.35" height="17.40" fill="#d9d8d5"/><rect x="99.66" y="189.80" width="3.35" height="17.40" fill="#d9d8d5"/><rect x="104.09" y="189.80" width="3.35" height="17.40" fill="#d9d8d5"/><rect x="108.52" y="189.80" width="3.35" height="17.40" fill="#d9d8d5"/><rect x="112.95" y="189.80" width="3.35" height="17.40" fill="#d9d8d5"/><rect x="117.38" y="189.80" width="3.35" height="17.40" fill="#d9d8d5"/><rect x="121.81" y="189.80" width="3.35" height="17.40" fill="#d9d8d5"/><rect x="126.24" y="189.80" width="3.35" height="17.40" fill="#d9d8d5"/><rect x="130.67" y="189.80" width="3.35" height="17.40" fill="#d9d8d5"/><rect x="135.10" y="189.80" width="3.35" height="17.40" fill="#d9d8d5"/><rect x="139.53" y="189.80" width="3.35" height="17.40" fill="#d9d8d5"/><rect x="143.96" y="189.80" width="3.35" height="17.40" fill="#d9d8d5"/><rect x="148.39" y="189.80" width="3.35" height="17.40" fill="#b2232b"/><rect x="152.82" y="189.80" width="3.35" height="17.40" fill="#d9d8d5"/><rect x="157.25" y="189.80" width="3.35" height="17.40" fill="#d9d8d5"/><rect x="161.68" y="189.80" width="3.35" height="17.40" fill="#d9d8d5"/><rect x="166.11" y="189.80" width="3.35" height="17.40" fill="#b2232b"/><rect x="170.54" y="189.80" width="3.35" height="17.40" fill="#d9d8d5"/><rect x="174.97" y="189.80" width="3.35" height="17.40" fill="#d9d8d5"/><rect x="179.40" y="189.80" width="3.35" height="17.40" fill="#d9d8d5"/><rect x="183.83" y="189.80" width="3.35" height="17.40" fill="#d9d8d5"/><rect x="188.26" y="189.80" width="3.35" height="17.40" fill="#d9d8d5"/><rect x="192.69" y="189.80" width="3.35" height="17.40" fill="#d9d8d5"/><rect x="197.12" y="189.80" width="3.35" height="17.40" fill="#d9d8d5"/><rect x="201.55" y="189.80" width="3.35" height="17.40" fill="#b2232b"/><rect x="205.98" y="189.80" width="3.35" height="17.40" fill="#d9d8d5"/><rect x="210.41" y="189.80" width="3.35" height="17.40" fill="#d9d8d5"/><rect x="214.84" y="189.80" width="3.35" height="17.40" fill="#d9d8d5"/><rect x="219.27" y="189.80" width="3.35" height="17.40" fill="#d9d8d5"/><rect x="223.70" y="189.80" width="3.35" height="17.40" fill="#d9d8d5"/><rect x="228.13" y="189.80" width="3.35" height="17.40" fill="#f3841c"/><rect x="232.56" y="189.80" width="3.35" height="17.40" fill="#d9d8d5"/><rect x="236.99" y="189.80" width="3.35" height="17.40" fill="#d9d8d5"/><rect x="241.42" y="189.80" width="3.35" height="17.40" fill="#d9d8d5"/><rect x="245.85" y="189.80" width="3.35" height="17.40" fill="#d9d8d5"/><rect x="250.28" y="189.80" width="3.35" height="17.40" fill="#d9d8d5"/><rect x="254.71" y="189.80" width="3.35" height="17.40" fill="#d9d8d5"/><rect x="259.14" y="189.80" width="3.35" height="17.40" fill="#d9d8d5"/><rect x="263.57" y="189.80" width="3.35" height="17.40" fill="#d9d8d5"/><rect x="268.00" y="189.80" width="3.35" height="17.40" fill="#b2232b"/><rect x="272.43" y="189.80" width="3.35" height="17.40" fill="#d9d8d5"/><rect x="276.86" y="189.80" width="3.35" height="17.40" fill="#d9d8d5"/><rect x="281.29" y="189.80" width="3.35" height="17.40" fill="#d9d8d5"/><rect x="285.72" y="189.80" width="3.35" height="17.40" fill="#d9d8d5"/><rect x="290.15" y="189.80" width="3.35" height="17.40" fill="#d9d8d5"/><rect x="294.58" y="189.80" width="3.35" height="17.40" fill="#d9d8d5"/><rect x="299.01" y="189.80" width="3.35" height="17.40" fill="#d9d8d5"/><rect x="303.44" y="189.80" width="3.35" height="17.40" fill="#d9d8d5"/><rect x="307.87" y="189.80" width="3.35" height="17.40" fill="#d9d8d5"/><rect x="312.30" y="189.80" width="3.35" height="17.40" fill="#d9d8d5"/><rect x="316.73" y="189.80" width="3.35" height="17.40" fill="#d9d8d5"/><rect x="321.16" y="189.80" width="3.35" height="17.40" fill="#d9d8d5"/><rect x="325.59" y="189.80" width="3.35" height="17.40" fill="#d9d8d5"/><rect x="330.02" y="189.80" width="3.35" height="17.40" fill="#d9d8d5"/><rect x="334.45" y="189.80" width="3.35" height="17.40" fill="#d9d8d5"/><rect x="338.88" y="189.80" width="3.35" height="17.40" fill="#d9d8d5"/><rect x="343.31" y="189.80" width="3.35" height="17.40" fill="#d9d8d5"/><rect x="347.74" y="189.80" width="3.35" height="17.40" fill="#d9d8d5"/><rect x="352.17" y="189.80" width="3.35" height="17.40" fill="#d9d8d5"/><rect x="356.60" y="189.80" width="3.35" height="17.40" fill="#d9d8d5"/><rect x="361.03" y="189.80" width="3.35" height="17.40" fill="#d9d8d5"/><rect x="365.46" y="189.80" width="3.35" height="17.40" fill="#d9d8d5"/><rect x="369.89" y="189.80" width="3.35" height="17.40" fill="#d9d8d5"/><rect x="374.32" y="189.80" width="3.35" height="17.40" fill="#d9d8d5"/><rect x="378.75" y="189.80" width="3.35" height="17.40" fill="#d9d8d5"/><rect x="383.18" y="189.80" width="3.35" height="17.40" fill="#b2232b"/><rect x="387.61" y="189.80" width="3.35" height="17.40" fill="#b2232b"/><rect x="392.04" y="189.80" width="3.35" height="17.40" fill="#d9d8d5"/><rect x="396.47" y="189.80" width="3.35" height="17.40" fill="#d9d8d5"/><rect x="400.90" y="189.80" width="3.35" height="17.40" fill="#d9d8d5"/><rect x="405.33" y="189.80" width="3.35" height="17.40" fill="#d9d8d5"/><rect x="409.76" y="189.80" width="3.35" height="17.40" fill="#d9d8d5"/><rect x="414.19" y="189.80" width="3.35" height="17.40" fill="#d9d8d5"/><rect x="418.62" y="189.80" width="3.35" height="17.40" fill="#d9d8d5"/><rect x="423.05" y="189.80" width="3.35" height="17.40" fill="#d9d8d5"/><rect x="427.48" y="189.80" width="3.35" height="17.40" fill="#d9d8d5"/><rect x="431.91" y="189.80" width="3.35" height="17.40" fill="#d9d8d5"/><rect x="436.34" y="189.80" width="3.35" height="17.40" fill="#d9d8d5"/><rect x="2.20" y="207.90" width="3.35" height="17.80" fill="#00766c"/><rect x="6.63" y="207.90" width="3.35" height="17.80" fill="#fcca34"/><rect x="11.06" y="207.90" width="3.35" height="17.80" fill="#00766c"/><rect x="15.49" y="207.90" width="3.35" height="17.80" fill="#00766c"/><rect x="19.92" y="207.90" width="3.35" height="17.80" fill="#00766c"/><rect x="24.35" y="207.90" width="3.35" height="17.80" fill="#00766c"/><rect x="28.78" y="207.90" width="3.35" height="17.80" fill="#00766c"/><rect x="33.21" y="207.90" width="3.35" height="17.80" fill="#00766c"/><rect x="37.64" y="207.90" width="3.35" height="17.80" fill="#00766c"/><rect x="42.07" y="207.90" width="3.35" height="17.80" fill="#00766c"/><rect x="46.50" y="207.90" width="3.35" height="17.80" fill="#00766c"/><rect x="50.93" y="207.90" width="3.35" height="17.80" fill="#00766c"/><rect x="55.36" y="207.90" width="3.35" height="17.80" fill="#00766c"/><rect x="59.79" y="207.90" width="3.35" height="17.80" fill="#00766c"/><rect x="64.22" y="207.90" width="3.35" height="17.80" fill="#00766c"/><rect x="68.65" y="207.90" width="3.35" height="17.80" fill="#00766c"/><rect x="73.08" y="207.90" width="3.35" height="17.80" fill="#00766c"/><rect x="77.51" y="207.90" width="3.35" height="17.80" fill="#00766c"/><rect x="81.94" y="207.90" width="3.35" height="17.80" fill="#00766c"/><rect x="86.37" y="207.90" width="3.35" height="17.80" fill="#00766c"/><rect x="90.80" y="207.90" width="3.35" height="17.80" fill="#00766c"/><rect x="95.23" y="207.90" width="3.35" height="17.80" fill="#00766c"/><rect x="99.66" y="207.90" width="3.35" height="17.80" fill="#00766c"/><rect x="104.09" y="207.90" width="3.35" height="17.80" fill="#00766c"/><rect x="108.52" y="207.90" width="3.35" height="17.80" fill="#fcca34"/><rect x="112.95" y="207.90" width="3.35" height="17.80" fill="#00766c"/><rect x="117.38" y="207.90" width="3.35" height="17.80" fill="#00766c"/><rect x="121.81" y="207.90" width="3.35" height="17.80" fill="#fcca34"/><rect x="126.24" y="207.90" width="3.35" height="17.80" fill="#00766c"/><rect x="130.67" y="207.90" width="3.35" height="17.80" fill="#00766c"/><rect x="135.10" y="207.90" width="3.35" height="17.80" fill="#00766c"/><rect x="139.53" y="207.90" width="3.35" height="17.80" fill="#00766c"/><rect x="143.96" y="207.90" width="3.35" height="17.80" fill="#00766c"/><rect x="148.39" y="207.90" width="3.35" height="17.80" fill="#00766c"/><rect x="152.82" y="207.90" width="3.35" height="17.80" fill="#00766c"/><rect x="157.25" y="207.90" width="3.35" height="17.80" fill="#00766c"/><rect x="161.68" y="207.90" width="3.35" height="17.80" fill="#00766c"/><rect x="166.11" y="207.90" width="3.35" height="17.80" fill="#00766c"/><rect x="170.54" y="207.90" width="3.35" height="17.80" fill="#fcca34"/><rect x="174.97" y="207.90" width="3.35" height="17.80" fill="#00766c"/><rect x="179.40" y="207.90" width="3.35" height="17.80" fill="#00766c"/><rect x="183.83" y="207.90" width="3.35" height="17.80" fill="#00766c"/><rect x="188.26" y="207.90" width="3.35" height="17.80" fill="#00766c"/><rect x="192.69" y="207.90" width="3.35" height="17.80" fill="#00766c"/><rect x="197.12" y="207.90" width="3.35" height="17.80" fill="#00766c"/><rect x="201.55" y="207.90" width="3.35" height="17.80" fill="#00766c"/><rect x="205.98" y="207.90" width="3.35" height="17.80" fill="#00766c"/><rect x="210.41" y="207.90" width="3.35" height="17.80" fill="#fcca34"/><rect x="214.84" y="207.90" width="3.35" height="17.80" fill="#00766c"/><rect x="219.27" y="207.90" width="3.35" height="17.80" fill="#00766c"/><rect x="223.70" y="207.90" width="3.35" height="17.80" fill="#00766c"/><rect x="228.13" y="207.90" width="3.35" height="17.80" fill="#fcca34"/><rect x="232.56" y="207.90" width="3.35" height="17.80" fill="#00766c"/><rect x="236.99" y="207.90" width="3.35" height="17.80" fill="#00766c"/><rect x="241.42" y="207.90" width="3.35" height="17.80" fill="#00766c"/><rect x="245.85" y="207.90" width="3.35" height="17.80" fill="#00766c"/><rect x="250.28" y="207.90" width="3.35" height="17.80" fill="#00766c"/><rect x="254.71" y="207.90" width="3.35" height="17.80" fill="#00766c"/><rect x="259.14" y="207.90" width="3.35" height="17.80" fill="#fcca34"/><rect x="263.57" y="207.90" width="3.35" height="17.80" fill="#00766c"/><rect x="268.00" y="207.90" width="3.35" height="17.80" fill="#00766c"/><rect x="272.43" y="207.90" width="3.35" height="17.80" fill="#00766c"/><rect x="276.86" y="207.90" width="3.35" height="17.80" fill="#00766c"/><rect x="281.29" y="207.90" width="3.35" height="17.80" fill="#00766c"/><rect x="285.72" y="207.90" width="3.35" height="17.80" fill="#00766c"/><rect x="290.15" y="207.90" width="3.35" height="17.80" fill="#00766c"/><rect x="294.58" y="207.90" width="3.35" height="17.80" fill="#00766c"/><rect x="299.01" y="207.90" width="3.35" height="17.80" fill="#00766c"/><rect x="303.44" y="207.90" width="3.35" height="17.80" fill="#00766c"/><rect x="307.87" y="207.90" width="3.35" height="17.80" fill="#fcca34"/><rect x="312.30" y="207.90" width="3.35" height="17.80" fill="#00766c"/><rect x="316.73" y="207.90" width="3.35" height="17.80" fill="#00766c"/><rect x="321.16" y="207.90" width="3.35" height="17.80" fill="#fcca34"/><rect x="325.59" y="207.90" width="3.35" height="17.80" fill="#00766c"/><rect x="330.02" y="207.90" width="3.35" height="17.80" fill="#00766c"/><rect x="334.45" y="207.90" width="3.35" height="17.80" fill="#00766c"/><rect x="338.88" y="207.90" width="3.35" height="17.80" fill="#fcca34"/><rect x="343.31" y="207.90" width="3.35" height="17.80" fill="#00766c"/><rect x="347.74" y="207.90" width="3.35" height="17.80" fill="#00766c"/><rect x="352.17" y="207.90" width="3.35" height="17.80" fill="#00766c"/><rect x="356.60" y="207.90" width="3.35" height="17.80" fill="#00766c"/><rect x="361.03" y="207.90" width="3.35" height="17.80" fill="#fcca34"/><rect x="365.46" y="207.90" width="3.35" height="17.80" fill="#00766c"/><rect x="369.89" y="207.90" width="3.35" height="17.80" fill="#00766c"/><rect x="374.32" y="207.90" width="3.35" height="17.80" fill="#00766c"/><rect x="378.75" y="207.90" width="3.35" height="17.80" fill="#fcca34"/><rect x="383.18" y="207.90" width="3.35" height="17.80" fill="#00766c"/><rect x="387.61" y="207.90" width="3.35" height="17.80" fill="#fcca34"/><rect x="392.04" y="207.90" width="3.35" height="17.80" fill="#00766c"/><rect x="396.47" y="207.90" width="3.35" height="17.80" fill="#00766c"/><rect x="400.90" y="207.90" width="3.35" height="17.80" fill="#00766c"/><rect x="405.33" y="207.90" width="3.35" height="17.80" fill="#00766c"/><rect x="409.76" y="207.90" width="3.35" height="17.80" fill="#fcca34"/><rect x="414.19" y="207.90" width="3.35" height="17.80" fill="#00766c"/><rect x="418.62" y="207.90" width="3.35" height="17.80" fill="#00766c"/><rect x="423.05" y="207.90" width="3.35" height="17.80" fill="#00766c"/><rect x="427.48" y="207.90" width="3.35" height="17.80" fill="#00766c"/><rect x="431.91" y="207.90" width="3.35" height="17.80" fill="#00766c"/><rect x="436.34" y="207.90" width="3.35" height="17.80" fill="#00766c"/><rect x="440.77" y="207.90" width="3.35" height="17.80" fill="#00766c"/><rect x="2.20" y="226.90" width="3.35" height="18.00" fill="#00766c"/><rect x="6.63" y="226.90" width="3.35" height="18.00" fill="#00766c"/><rect x="11.06" y="226.90" width="3.35" height="18.00" fill="#fcca34"/><rect x="15.49" y="226.90" width="3.35" height="18.00" fill="#fcca34"/><rect x="19.92" y="226.90" width="3.35" height="18.00" fill="#00766c"/><rect x="24.35" y="226.90" width="3.35" height="18.00" fill="#fcca34"/><rect x="28.78" y="226.90" width="3.35" height="18.00" fill="#00766c"/><rect x="33.21" y="226.90" width="3.35" height="18.00" fill="#fcca34"/><rect x="37.64" y="226.90" width="3.35" height="18.00" fill="#fcca34"/><rect x="42.07" y="226.90" width="3.35" height="18.00" fill="#fcca34"/><rect x="46.50" y="226.90" width="3.35" height="18.00" fill="#00766c"/><rect x="50.93" y="226.90" width="3.35" height="18.00" fill="#fcca34"/><rect x="55.36" y="226.90" width="3.35" height="18.00" fill="#00766c"/><rect x="59.79" y="226.90" width="3.35" height="18.00" fill="#00766c"/><rect x="64.22" y="226.90" width="3.35" height="18.00" fill="#fcca34"/><rect x="68.65" y="226.90" width="3.35" height="18.00" fill="#fcca34"/><rect x="73.08" y="226.90" width="3.35" height="18.00" fill="#fcca34"/><rect x="77.51" y="226.90" width="3.35" height="18.00" fill="#fcca34"/><rect x="81.94" y="226.90" width="3.35" height="18.00" fill="#00766c"/><rect x="86.37" y="226.90" width="3.35" height="18.00" fill="#00766c"/><rect x="90.80" y="226.90" width="3.35" height="18.00" fill="#00766c"/><rect x="95.23" y="226.90" width="3.35" height="18.00" fill="#fcca34"/><rect x="99.66" y="226.90" width="3.35" height="18.00" fill="#00766c"/><rect x="104.09" y="226.90" width="3.35" height="18.00" fill="#00766c"/><rect x="108.52" y="226.90" width="3.35" height="18.00" fill="#fcca34"/><rect x="112.95" y="226.90" width="3.35" height="18.00" fill="#00766c"/><rect x="117.38" y="226.90" width="3.35" height="18.00" fill="#00766c"/><rect x="121.81" y="226.90" width="3.35" height="18.00" fill="#fcca34"/><rect x="126.24" y="226.90" width="3.35" height="18.00" fill="#fcca34"/><rect x="130.67" y="226.90" width="3.35" height="18.00" fill="#fcca34"/><rect x="135.10" y="226.90" width="3.35" height="18.00" fill="#00766c"/><rect x="139.53" y="226.90" width="3.35" height="18.00" fill="#fcca34"/><rect x="143.96" y="226.90" width="3.35" height="18.00" fill="#fcca34"/><rect x="148.39" y="226.90" width="3.35" height="18.00" fill="#fcca34"/><rect x="152.82" y="226.90" width="3.35" height="18.00" fill="#fcca34"/><rect x="157.25" y="226.90" width="3.35" height="18.00" fill="#00766c"/><rect x="161.68" y="226.90" width="3.35" height="18.00" fill="#00766c"/><rect x="166.11" y="226.90" width="3.35" height="18.00" fill="#fcca34"/><rect x="170.54" y="226.90" width="3.35" height="18.00" fill="#fcca34"/><rect x="174.97" y="226.90" width="3.35" height="18.00" fill="#fcca34"/><rect x="179.40" y="226.90" width="3.35" height="18.00" fill="#fcca34"/><rect x="183.83" y="226.90" width="3.35" height="18.00" fill="#fcca34"/><rect x="188.26" y="226.90" width="3.35" height="18.00" fill="#fcca34"/><rect x="192.69" y="226.90" width="3.35" height="18.00" fill="#fcca34"/><rect x="197.12" y="226.90" width="3.35" height="18.00" fill="#00766c"/><rect x="201.55" y="226.90" width="3.35" height="18.00" fill="#00766c"/><rect x="205.98" y="226.90" width="3.35" height="18.00" fill="#fcca34"/><rect x="210.41" y="226.90" width="3.35" height="18.00" fill="#fcca34"/><rect x="214.84" y="226.90" width="3.35" height="18.00" fill="#fcca34"/><rect x="219.27" y="226.90" width="3.35" height="18.00" fill="#fcca34"/><rect x="223.70" y="226.90" width="3.35" height="18.00" fill="#00766c"/><rect x="228.13" y="226.90" width="3.35" height="18.00" fill="#00766c"/><rect x="232.56" y="226.90" width="3.35" height="18.00" fill="#00766c"/><rect x="236.99" y="226.90" width="3.35" height="18.00" fill="#fcca34"/><rect x="241.42" y="226.90" width="3.35" height="18.00" fill="#fcca34"/><rect x="245.85" y="226.90" width="3.35" height="18.00" fill="#fcca34"/><rect x="250.28" y="226.90" width="3.35" height="18.00" fill="#fcca34"/><rect x="254.71" y="226.90" width="3.35" height="18.00" fill="#fcca34"/><rect x="259.14" y="226.90" width="3.35" height="18.00" fill="#fcca34"/><rect x="263.57" y="226.90" width="3.35" height="18.00" fill="#00766c"/><rect x="268.00" y="226.90" width="3.35" height="18.00" fill="#fcca34"/><rect x="272.43" y="226.90" width="3.35" height="18.00" fill="#fcca34"/><rect x="276.86" y="226.90" width="3.35" height="18.00" fill="#fcca34"/><rect x="281.29" y="226.90" width="3.35" height="18.00" fill="#fcca34"/><rect x="285.72" y="226.90" width="3.35" height="18.00" fill="#fcca34"/><rect x="290.15" y="226.90" width="3.35" height="18.00" fill="#fcca34"/><rect x="294.58" y="226.90" width="3.35" height="18.00" fill="#00766c"/><rect x="299.01" y="226.90" width="3.35" height="18.00" fill="#00766c"/><rect x="303.44" y="226.90" width="3.35" height="18.00" fill="#fcca34"/><rect x="307.87" y="226.90" width="3.35" height="18.00" fill="#00766c"/><rect x="312.30" y="226.90" width="3.35" height="18.00" fill="#fcca34"/><rect x="316.73" y="226.90" width="3.35" height="18.00" fill="#00766c"/><rect x="321.16" y="226.90" width="3.35" height="18.00" fill="#fcca34"/><rect x="325.59" y="226.90" width="3.35" height="18.00" fill="#fcca34"/><rect x="330.02" y="226.90" width="3.35" height="18.00" fill="#fcca34"/><rect x="334.45" y="226.90" width="3.35" height="18.00" fill="#fcca34"/><rect x="338.88" y="226.90" width="3.35" height="18.00" fill="#fcca34"/><rect x="343.31" y="226.90" width="3.35" height="18.00" fill="#fcca34"/><rect x="347.74" y="226.90" width="3.35" height="18.00" fill="#fcca34"/><rect x="352.17" y="226.90" width="3.35" height="18.00" fill="#fcca34"/><rect x="356.60" y="226.90" width="3.35" height="18.00" fill="#fcca34"/><rect x="361.03" y="226.90" width="3.35" height="18.00" fill="#fcca34"/><rect x="365.46" y="226.90" width="3.35" height="18.00" fill="#fcca34"/><rect x="369.89" y="226.90" width="3.35" height="18.00" fill="#fcca34"/><rect x="374.32" y="226.90" width="3.35" height="18.00" fill="#fcca34"/><rect x="378.75" y="226.90" width="3.35" height="18.00" fill="#fcca34"/><rect x="383.18" y="226.90" width="3.35" height="18.00" fill="#fcca34"/><rect x="387.61" y="226.90" width="3.35" height="18.00" fill="#fcca34"/><rect x="392.04" y="226.90" width="3.35" height="18.00" fill="#fcca34"/><rect x="396.47" y="226.90" width="3.35" height="18.00" fill="#fcca34"/><rect x="400.90" y="226.90" width="3.35" height="18.00" fill="#fcca34"/><rect x="405.33" y="226.90" width="3.35" height="18.00" fill="#fcca34"/><rect x="409.76" y="226.90" width="3.35" height="18.00" fill="#fcca34"/><rect x="414.19" y="226.90" width="3.35" height="18.00" fill="#fcca34"/><rect x="418.62" y="226.90" width="3.35" height="18.00" fill="#fcca34"/><rect x="423.05" y="226.90" width="3.35" height="18.00" fill="#fcca34"/><rect x="427.48" y="226.90" width="3.35" height="18.00" fill="#00766c"/><rect x="431.91" y="226.90" width="3.35" height="18.00" fill="#00766c"/><rect x="436.34" y="226.90" width="3.35" height="18.00" fill="#fcca34"/><rect x="440.77" y="226.90" width="3.35" height="18.00" fill="#fcca34"/><rect x="1.6" y="1.5" width="443.3" height="243.4" fill="none" stroke="#5f5f5f" stroke-width="1.1"/><rect x="2.35" y="357.00" width="4.45" height="19.25" fill="#b2232b"/><rect x="7.50" y="357.00" width="4.45" height="19.25" fill="#b2232b"/><rect x="12.65" y="357.00" width="4.45" height="19.25" fill="#b2232b"/><rect x="17.81" y="357.00" width="4.45" height="19.25" fill="#b2232b"/><rect x="22.96" y="357.00" width="4.45" height="19.25" fill="#b2232b"/><rect x="28.11" y="357.00" width="4.45" height="19.25" fill="#b2232b"/><rect x="33.26" y="357.00" width="4.45" height="19.25" fill="#b2232b"/><rect x="38.41" y="357.00" width="4.45" height="19.25" fill="#b2232b"/><rect x="43.57" y="357.00" width="4.45" height="19.25" fill="#b2232b"/><rect x="48.72" y="357.00" width="4.45" height="19.25" fill="#b2232b"/><rect x="53.87" y="357.00" width="4.45" height="19.25" fill="#b2232b"/><rect x="59.02" y="357.00" width="4.45" height="19.25" fill="#b2232b"/><rect x="64.17" y="357.00" width="4.45" height="19.25" fill="#b2232b"/><rect x="69.33" y="357.00" width="4.45" height="19.25" fill="#b2232b"/><rect x="74.48" y="357.00" width="4.45" height="19.25" fill="#b2232b"/><rect x="79.63" y="357.00" width="4.45" height="19.25" fill="#b2232b"/><rect x="84.78" y="357.00" width="4.45" height="19.25" fill="#b2232b"/><rect x="89.93" y="357.00" width="4.45" height="19.25" fill="#b2232b"/><rect x="95.09" y="357.00" width="4.45" height="19.25" fill="#b2232b"/><rect x="100.24" y="357.00" width="4.45" height="19.25" fill="#b2232b"/><rect x="105.39" y="357.00" width="4.45" height="19.25" fill="#b2232b"/><rect x="110.54" y="357.00" width="4.45" height="19.25" fill="#b2232b"/><rect x="115.69" y="357.00" width="4.45" height="19.25" fill="#b2232b"/><rect x="120.85" y="357.00" width="4.45" height="19.25" fill="#b2232b"/><rect x="126.00" y="357.00" width="4.45" height="19.25" fill="#b2232b"/><rect x="131.15" y="357.00" width="4.45" height="19.25" fill="#b2232b"/><rect x="136.30" y="357.00" width="4.45" height="19.25" fill="#b2232b"/><rect x="141.45" y="357.00" width="4.45" height="19.25" fill="#b2232b"/><rect x="146.61" y="357.00" width="4.45" height="19.25" fill="#b2232b"/><rect x="151.76" y="357.00" width="4.45" height="19.25" fill="#b2232b"/><rect x="156.91" y="357.00" width="4.45" height="19.25" fill="#b2232b"/><rect x="162.06" y="357.00" width="4.45" height="19.25" fill="#b2232b"/><rect x="167.21" y="357.00" width="4.45" height="19.25" fill="#b2232b"/><rect x="172.37" y="357.00" width="4.45" height="19.25" fill="#b2232b"/><rect x="177.52" y="357.00" width="4.45" height="19.25" fill="#b2232b"/><rect x="182.67" y="357.00" width="4.45" height="19.25" fill="#b2232b"/><rect x="187.82" y="357.00" width="4.45" height="19.25" fill="#b2232b"/><rect x="192.97" y="357.00" width="4.45" height="19.25" fill="#b2232b"/><rect x="198.13" y="357.00" width="4.45" height="19.25" fill="#b2232b"/><rect x="203.28" y="357.00" width="4.45" height="19.25" fill="#b2232b"/><rect x="208.43" y="357.00" width="4.45" height="19.25" fill="#b2232b"/><rect x="213.58" y="357.00" width="4.45" height="19.25" fill="#b2232b"/><rect x="218.73" y="357.00" width="4.45" height="19.25" fill="#b2232b"/><rect x="223.89" y="357.00" width="4.45" height="19.25" fill="#b2232b"/><rect x="229.04" y="357.00" width="4.45" height="19.25" fill="#b2232b"/><rect x="234.19" y="357.00" width="4.45" height="19.25" fill="#b2232b"/><rect x="239.34" y="357.00" width="4.45" height="19.25" fill="#b2232b"/><rect x="244.49" y="357.00" width="4.45" height="19.25" fill="#b2232b"/><rect x="249.65" y="357.00" width="4.45" height="19.25" fill="#b2232b"/><rect x="254.80" y="357.00" width="4.45" height="19.25" fill="#b2232b"/><rect x="259.95" y="357.00" width="4.45" height="19.25" fill="#b2232b"/><rect x="265.10" y="357.00" width="4.45" height="19.25" fill="#b2232b"/><rect x="270.25" y="357.00" width="4.45" height="19.25" fill="#d9d8d5"/><rect x="275.41" y="357.00" width="4.45" height="19.25" fill="#d9d8d5"/><rect x="280.56" y="357.00" width="4.45" height="19.25" fill="#d9d8d5"/><rect x="285.71" y="357.00" width="4.45" height="19.25" fill="#d9d8d5"/><rect x="290.86" y="357.00" width="4.45" height="19.25" fill="#d9d8d5"/><rect x="296.01" y="357.00" width="4.45" height="19.25" fill="#d9d8d5"/><rect x="301.17" y="357.00" width="4.45" height="19.25" fill="#d9d8d5"/><rect x="306.32" y="357.00" width="4.45" height="19.25" fill="#d9d8d5"/><rect x="311.47" y="357.00" width="4.45" height="19.25" fill="#d9d8d5"/><rect x="316.62" y="357.00" width="4.45" height="19.25" fill="#d9d8d5"/><rect x="321.77" y="357.00" width="4.45" height="19.25" fill="#d9d8d5"/><rect x="326.93" y="357.00" width="4.45" height="19.25" fill="#d9d8d5"/><rect x="332.08" y="357.00" width="4.45" height="19.25" fill="#d9d8d5"/><rect x="337.23" y="357.00" width="4.45" height="19.25" fill="#d9d8d5"/><rect x="342.38" y="357.00" width="4.45" height="19.25" fill="#d9d8d5"/><rect x="347.53" y="357.00" width="4.45" height="19.25" fill="#d9d8d5"/><rect x="352.69" y="357.00" width="4.45" height="19.25" fill="#d9d8d5"/><rect x="357.84" y="357.00" width="4.45" height="19.25" fill="#d9d8d5"/><rect x="362.99" y="357.00" width="4.45" height="19.25" fill="#d9d8d5"/><rect x="368.14" y="357.00" width="4.45" height="19.25" fill="#d9d8d5"/><rect x="373.29" y="357.00" width="4.45" height="19.25" fill="#d9d8d5"/><rect x="378.45" y="357.00" width="4.45" height="19.25" fill="#d9d8d5"/><rect x="383.60" y="357.00" width="4.45" height="19.25" fill="#d9d8d5"/><rect x="388.75" y="357.00" width="4.45" height="19.25" fill="#d9d8d5"/><rect x="393.90" y="357.00" width="4.45" height="19.25" fill="#d9d8d5"/><rect x="399.05" y="357.00" width="4.45" height="19.25" fill="#d9d8d5"/><rect x="404.21" y="357.00" width="4.45" height="19.25" fill="#d9d8d5"/><rect x="409.36" y="357.00" width="4.45" height="19.25" fill="#d9d8d5"/><rect x="414.51" y="357.00" width="4.45" height="19.25" fill="#d9d8d5"/><rect x="419.66" y="357.00" width="4.45" height="19.25" fill="#d9d8d5"/><rect x="424.81" y="357.00" width="4.45" height="19.25" fill="#d9d8d5"/><rect x="429.97" y="357.00" width="4.45" height="19.25" fill="#d9d8d5"/><rect x="435.12" y="357.00" width="4.45" height="19.25" fill="#d9d8d5"/><rect x="440.27" y="357.00" width="4.45" height="19.25" fill="#d9d8d5"/><rect x="2.35" y="377.39" width="4.45" height="19.25" fill="#b2232b"/><rect x="7.50" y="377.39" width="4.45" height="19.25" fill="#b2232b"/><rect x="12.65" y="377.39" width="4.45" height="19.25" fill="#b2232b"/><rect x="17.81" y="377.39" width="4.45" height="19.25" fill="#b2232b"/><rect x="22.96" y="377.39" width="4.45" height="19.25" fill="#b2232b"/><rect x="28.11" y="377.39" width="4.45" height="19.25" fill="#b2232b"/><rect x="33.26" y="377.39" width="4.45" height="19.25" fill="#b2232b"/><rect x="38.41" y="377.39" width="4.45" height="19.25" fill="#b2232b"/><rect x="43.57" y="377.39" width="4.45" height="19.25" fill="#b2232b"/><rect x="48.72" y="377.39" width="4.45" height="19.25" fill="#b2232b"/><rect x="53.87" y="377.39" width="4.45" height="19.25" fill="#b2232b"/><rect x="59.02" y="377.39" width="4.45" height="19.25" fill="#b2232b"/><rect x="64.17" y="377.39" width="4.45" height="19.25" fill="#b2232b"/><rect x="69.33" y="377.39" width="4.45" height="19.25" fill="#b2232b"/><rect x="74.48" y="377.39" width="4.45" height="19.25" fill="#b2232b"/><rect x="79.63" y="377.39" width="4.45" height="19.25" fill="#d9d8d5"/><rect x="84.78" y="377.39" width="4.45" height="19.25" fill="#d9d8d5"/><rect x="89.93" y="377.39" width="4.45" height="19.25" fill="#d9d8d5"/><rect x="95.09" y="377.39" width="4.45" height="19.25" fill="#d9d8d5"/><rect x="100.24" y="377.39" width="4.45" height="19.25" fill="#d9d8d5"/><rect x="105.39" y="377.39" width="4.45" height="19.25" fill="#d9d8d5"/><rect x="110.54" y="377.39" width="4.45" height="19.25" fill="#d9d8d5"/><rect x="115.69" y="377.39" width="4.45" height="19.25" fill="#d9d8d5"/><rect x="120.85" y="377.39" width="4.45" height="19.25" fill="#d9d8d5"/><rect x="126.00" y="377.39" width="4.45" height="19.25" fill="#d9d8d5"/><rect x="131.15" y="377.39" width="4.45" height="19.25" fill="#d9d8d5"/><rect x="136.30" y="377.39" width="4.45" height="19.25" fill="#d9d8d5"/><rect x="141.45" y="377.39" width="4.45" height="19.25" fill="#d9d8d5"/><rect x="270.25" y="377.39" width="4.45" height="19.25" fill="#b2232b"/><rect x="275.41" y="377.39" width="4.45" height="19.25" fill="#b2232b"/><rect x="280.56" y="377.39" width="4.45" height="19.25" fill="#b2232b"/><rect x="285.71" y="377.39" width="4.45" height="19.25" fill="#b2232b"/><rect x="290.86" y="377.39" width="4.45" height="19.25" fill="#b2232b"/><rect x="296.01" y="377.39" width="4.45" height="19.25" fill="#b2232b"/><rect x="301.17" y="377.39" width="4.45" height="19.25" fill="#b2232b"/><rect x="306.32" y="377.39" width="4.45" height="19.25" fill="#d9d8d5"/><rect x="311.47" y="377.39" width="4.45" height="19.25" fill="#d9d8d5"/><rect x="316.62" y="377.39" width="4.45" height="19.25" fill="#d9d8d5"/><rect x="321.77" y="377.39" width="4.45" height="19.25" fill="#d9d8d5"/><rect x="326.93" y="377.39" width="4.45" height="19.25" fill="#d9d8d5"/><rect x="332.08" y="377.39" width="4.45" height="19.25" fill="#d9d8d5"/><rect x="337.23" y="377.39" width="4.45" height="19.25" fill="#d9d8d5"/><rect x="342.38" y="377.39" width="4.45" height="19.25" fill="#d9d8d5"/><rect x="347.53" y="377.39" width="4.45" height="19.25" fill="#d9d8d5"/><rect x="2.35" y="397.78" width="4.45" height="19.25" fill="#b2232b"/><rect x="7.50" y="397.78" width="4.45" height="19.25" fill="#d9d8d5"/><rect x="12.65" y="397.78" width="4.45" height="19.25" fill="#d9d8d5"/><rect x="17.81" y="397.78" width="4.45" height="19.25" fill="#d9d8d5"/><rect x="79.63" y="397.78" width="4.45" height="19.25" fill="#b2232b"/><rect x="84.78" y="397.78" width="4.45" height="19.25" fill="#d9d8d5"/><rect x="89.93" y="397.78" width="4.45" height="19.25" fill="#d9d8d5"/><rect x="95.09" y="397.78" width="4.45" height="19.25" fill="#d9d8d5"/><rect x="146.61" y="397.78" width="4.45" height="19.25" fill="#b2232b"/><rect x="151.76" y="397.78" width="4.45" height="19.25" fill="#b2232b"/><rect x="156.91" y="397.78" width="4.45" height="19.25" fill="#b2232b"/><rect x="162.06" y="397.78" width="4.45" height="19.25" fill="#b2232b"/><rect x="167.21" y="397.78" width="4.45" height="19.25" fill="#b2232b"/><rect x="172.37" y="397.78" width="4.45" height="19.25" fill="#d9d8d5"/><rect x="177.52" y="397.78" width="4.45" height="19.25" fill="#d9d8d5"/><rect x="182.67" y="397.78" width="4.45" height="19.25" fill="#d9d8d5"/><rect x="187.82" y="397.78" width="4.45" height="19.25" fill="#d9d8d5"/><rect x="192.97" y="397.78" width="4.45" height="19.25" fill="#d9d8d5"/><rect x="270.25" y="397.78" width="4.45" height="19.25" fill="#b2232b"/><rect x="275.41" y="397.78" width="4.45" height="19.25" fill="#b2232b"/><rect x="306.32" y="397.78" width="4.45" height="19.25" fill="#b2232b"/><rect x="311.47" y="397.78" width="4.45" height="19.25" fill="#b2232b"/><rect x="316.62" y="397.78" width="4.45" height="19.25" fill="#d9d8d5"/><rect x="321.77" y="397.78" width="4.45" height="19.25" fill="#d9d8d5"/><rect x="352.69" y="397.78" width="4.45" height="19.25" fill="#b2232b"/><rect x="357.84" y="397.78" width="4.45" height="19.25" fill="#b2232b"/><rect x="362.99" y="397.78" width="4.45" height="19.25" fill="#b2232b"/><rect x="368.14" y="397.78" width="4.45" height="19.25" fill="#b2232b"/><rect x="373.29" y="397.78" width="4.45" height="19.25" fill="#d9d8d5"/><rect x="7.50" y="418.17" width="4.45" height="19.25" fill="#b2232b"/><rect x="22.96" y="418.17" width="4.45" height="19.25" fill="#b2232b"/><rect x="28.11" y="418.17" width="4.45" height="19.25" fill="#b2232b"/><rect x="84.78" y="418.17" width="4.45" height="19.25" fill="#d9d8d5"/><rect x="100.24" y="418.17" width="4.45" height="19.25" fill="#d9d8d5"/><rect x="146.61" y="418.17" width="4.45" height="19.25" fill="#b2232b"/><rect x="151.76" y="418.17" width="4.45" height="19.25" fill="#d9d8d5"/><rect x="172.37" y="418.17" width="4.45" height="19.25" fill="#b2232b"/><rect x="177.52" y="418.17" width="4.45" height="19.25" fill="#d9d8d5"/><rect x="198.13" y="418.17" width="4.45" height="19.25" fill="#b2232b"/><rect x="270.25" y="418.17" width="4.45" height="19.25" fill="#b2232b"/><rect x="306.32" y="418.17" width="4.45" height="19.25" fill="#b2232b"/><rect x="311.47" y="418.17" width="4.45" height="19.25" fill="#b2232b"/><rect x="316.62" y="418.17" width="4.45" height="19.25" fill="#b2232b"/><rect x="326.93" y="418.17" width="4.45" height="19.25" fill="#b2232b"/><rect x="332.08" y="418.17" width="4.45" height="19.25" fill="#b2232b"/><rect x="337.23" y="418.17" width="4.45" height="19.25" fill="#b2232b"/><rect x="352.69" y="418.17" width="4.45" height="19.25" fill="#b2232b"/><rect x="378.45" y="418.17" width="4.45" height="19.25" fill="#b2232b"/><rect x="383.60" y="418.17" width="4.45" height="19.25" fill="#b2232b"/><rect x="388.75" y="418.17" width="4.45" height="19.25" fill="#b2232b"/><rect x="393.90" y="418.17" width="4.45" height="19.25" fill="#b2232b"/><rect x="399.05" y="418.17" width="4.45" height="19.25" fill="#b2232b"/><rect x="404.21" y="418.17" width="4.45" height="19.25" fill="#b2232b"/><rect x="33.26" y="438.56" width="4.45" height="19.25" fill="#b2232b"/><rect x="38.41" y="438.56" width="4.45" height="19.25" fill="#d9d8d5"/><rect x="79.63" y="438.56" width="4.45" height="19.25" fill="#b2232b"/><rect x="105.39" y="438.56" width="4.45" height="19.25" fill="#b2232b"/><rect x="146.61" y="438.56" width="4.45" height="19.25" fill="#d9d8d5"/><rect x="177.52" y="438.56" width="4.45" height="19.25" fill="#b2232b"/><rect x="198.13" y="438.56" width="4.45" height="19.25" fill="#b2232b"/><rect x="203.28" y="438.56" width="4.45" height="19.25" fill="#b2232b"/><rect x="208.43" y="438.56" width="4.45" height="19.25" fill="#b2232b"/><rect x="213.58" y="438.56" width="4.45" height="19.25" fill="#b2232b"/><rect x="218.73" y="438.56" width="4.45" height="19.25" fill="#b2232b"/><rect x="223.89" y="438.56" width="4.45" height="19.25" fill="#b2232b"/><rect x="229.04" y="438.56" width="4.45" height="19.25" fill="#d9d8d5"/><rect x="234.19" y="438.56" width="4.45" height="19.25" fill="#d9d8d5"/><rect x="275.41" y="438.56" width="4.45" height="19.25" fill="#b2232b"/><rect x="306.32" y="438.56" width="4.45" height="19.25" fill="#b2232b"/><rect x="342.38" y="438.56" width="4.45" height="19.25" fill="#b2232b"/><rect x="378.45" y="438.56" width="4.45" height="19.25" fill="#b2232b"/><rect x="383.60" y="438.56" width="4.45" height="19.25" fill="#b2232b"/><rect x="409.36" y="438.56" width="4.45" height="19.25" fill="#b2232b"/><rect x="414.51" y="438.56" width="4.45" height="19.25" fill="#b2232b"/><rect x="419.66" y="438.56" width="4.45" height="19.25" fill="#b2232b"/><rect x="43.57" y="458.95" width="4.45" height="19.25" fill="#b2232b"/><rect x="48.72" y="458.95" width="4.45" height="19.25" fill="#b2232b"/><rect x="53.87" y="458.95" width="4.45" height="19.25" fill="#b2232b"/><rect x="59.02" y="458.95" width="4.45" height="19.25" fill="#b2232b"/><rect x="64.17" y="458.95" width="4.45" height="19.25" fill="#d9d8d5"/><rect x="110.54" y="458.95" width="4.45" height="19.25" fill="#b2232b"/><rect x="115.69" y="458.95" width="4.45" height="19.25" fill="#b2232b"/><rect x="239.34" y="458.95" width="4.45" height="19.25" fill="#d9d8d5"/><rect x="244.49" y="458.95" width="4.45" height="19.25" fill="#d9d8d5"/><rect x="249.65" y="458.95" width="4.45" height="19.25" fill="#d9d8d5"/><rect x="270.25" y="458.95" width="4.45" height="19.25" fill="#d9d8d5"/><rect x="280.56" y="458.95" width="4.45" height="19.25" fill="#d9d8d5"/><rect x="316.62" y="458.95" width="4.45" height="19.25" fill="#d9d8d5"/><rect x="326.93" y="458.95" width="4.45" height="19.25" fill="#d9d8d5"/><rect x="347.53" y="458.95" width="4.45" height="19.25" fill="#d9d8d5"/><rect x="424.81" y="458.95" width="4.45" height="19.25" fill="#b2232b"/><rect x="429.97" y="458.95" width="4.45" height="19.25" fill="#b2232b"/><rect x="22.96" y="479.34" width="4.45" height="19.25" fill="#b2232b"/><rect x="28.11" y="479.34" width="4.45" height="19.25" fill="#d9d8d5"/><rect x="43.57" y="479.34" width="4.45" height="19.25" fill="#d9d8d5"/><rect x="151.76" y="479.34" width="4.45" height="19.25" fill="#d9d8d5"/><rect x="156.91" y="479.34" width="4.45" height="19.25" fill="#b2232b"/><rect x="177.52" y="479.34" width="4.45" height="19.25" fill="#d9d8d5"/><rect x="182.67" y="479.34" width="4.45" height="19.25" fill="#d9d8d5"/><rect x="203.28" y="479.34" width="4.45" height="19.25" fill="#d9d8d5"/><rect x="239.34" y="479.34" width="4.45" height="19.25" fill="#d9d8d5"/><rect x="275.41" y="479.34" width="4.45" height="19.25" fill="#b2232b"/><rect x="352.69" y="479.34" width="4.45" height="19.25" fill="#b2232b"/><rect x="373.29" y="479.34" width="4.45" height="19.25" fill="#b2232b"/><rect x="409.36" y="479.34" width="4.45" height="19.25" fill="#d9d8d5"/><rect x="424.81" y="479.34" width="4.45" height="19.25" fill="#d9d8d5"/><rect x="28.11" y="499.73" width="4.45" height="19.25" fill="#d9d8d5"/><rect x="33.26" y="499.73" width="4.45" height="19.25" fill="#b2232b"/><rect x="110.54" y="499.73" width="4.45" height="19.25" fill="#d9d8d5"/><rect x="120.85" y="499.73" width="4.45" height="19.25" fill="#d9d8d5"/><rect x="151.76" y="499.73" width="4.45" height="19.25" fill="#b2232b"/><rect x="203.28" y="499.73" width="4.45" height="19.25" fill="#d9d8d5"/><rect x="208.43" y="499.73" width="4.45" height="19.25" fill="#b2232b"/><rect x="239.34" y="499.73" width="4.45" height="19.25" fill="#d9d8d5"/><rect x="244.49" y="499.73" width="4.45" height="19.25" fill="#b2232b"/><rect x="254.80" y="499.73" width="4.45" height="19.25" fill="#b2232b"/><rect x="280.56" y="499.73" width="4.45" height="19.25" fill="#b2232b"/><rect x="347.53" y="499.73" width="4.45" height="19.25" fill="#b2232b"/><rect x="388.75" y="499.73" width="4.45" height="19.25" fill="#d9d8d5"/><rect x="105.39" y="520.12" width="4.45" height="19.25" fill="#b2232b"/><rect x="110.54" y="520.12" width="4.45" height="19.25" fill="#d9d8d5"/><rect x="126.00" y="520.12" width="4.45" height="19.25" fill="#d9d8d5"/><rect x="156.91" y="520.12" width="4.45" height="19.25" fill="#b2232b"/><rect x="249.65" y="520.12" width="4.45" height="19.25" fill="#b2232b"/><rect x="254.80" y="520.12" width="4.45" height="19.25" fill="#b2232b"/><rect x="280.56" y="520.12" width="4.45" height="19.25" fill="#b2232b"/><rect x="311.47" y="520.12" width="4.45" height="19.25" fill="#b2232b"/><rect x="326.93" y="520.12" width="4.45" height="19.25" fill="#b2232b"/><rect x="435.12" y="520.12" width="4.45" height="19.25" fill="#b2232b"/><rect x="440.27" y="520.12" width="4.45" height="19.25" fill="#b2232b"/><rect x="162.06" y="540.51" width="4.45" height="19.25" fill="#b2232b"/><rect x="187.82" y="540.51" width="4.45" height="19.25" fill="#d9d8d5"/><rect x="192.97" y="540.51" width="4.45" height="19.25" fill="#d9d8d5"/><rect x="213.58" y="540.51" width="4.45" height="19.25" fill="#b2232b"/><rect x="285.71" y="540.51" width="4.45" height="19.25" fill="#b2232b"/><rect x="414.51" y="540.51" width="4.45" height="19.25" fill="#d9d8d5"/><rect x="424.81" y="540.51" width="4.45" height="19.25" fill="#b2232b"/><rect x="435.12" y="540.51" width="4.45" height="19.25" fill="#b2232b"/><rect x="440.27" y="540.51" width="4.45" height="19.25" fill="#d9d8d5"/><rect x="33.26" y="560.90" width="4.45" height="19.25" fill="#b2232b"/><rect x="69.33" y="560.90" width="4.45" height="19.25" fill="#b2232b"/><rect x="79.63" y="560.90" width="4.45" height="19.25" fill="#d9d8d5"/><rect x="120.85" y="560.90" width="4.45" height="19.25" fill="#d9d8d5"/><rect x="249.65" y="560.90" width="4.45" height="19.25" fill="#b2232b"/><rect x="306.32" y="560.90" width="4.45" height="19.25" fill="#b2232b"/><rect x="352.69" y="560.90" width="4.45" height="19.25" fill="#b2232b"/><rect x="378.45" y="560.90" width="4.45" height="19.25" fill="#b2232b"/><rect x="429.97" y="560.90" width="4.45" height="19.25" fill="#d9d8d5"/><rect x="2.35" y="581.29" width="4.45" height="19.25" fill="#d9d8d5"/><rect x="7.50" y="581.29" width="4.45" height="19.25" fill="#d9d8d5"/><rect x="12.65" y="581.29" width="4.45" height="19.25" fill="#b2232b"/><rect x="100.24" y="581.29" width="4.45" height="19.25" fill="#d9d8d5"/><rect x="167.21" y="581.29" width="4.45" height="19.25" fill="#b2232b"/><rect x="187.82" y="581.29" width="4.45" height="19.25" fill="#d9d8d5"/><rect x="259.95" y="581.29" width="4.45" height="19.25" fill="#b2232b"/><rect x="265.10" y="581.29" width="4.45" height="19.25" fill="#b2232b"/><rect x="270.25" y="581.29" width="4.45" height="19.25" fill="#d9d8d5"/><rect x="373.29" y="581.29" width="4.45" height="19.25" fill="#d9d8d5"/><rect x="1.8" y="356.9" width="443.2" height="243.6" fill="none" stroke="#5f5f5f" stroke-width="1.2"/><rect x="2.6" y="256.4" width="8.2" height="7.8" fill="#b2232b" stroke="#444" stroke-width="0.8"/><rect x="2.6" y="269.4" width="8.2" height="7.8" fill="#f3841c" stroke="#444" stroke-width="0.8"/><rect x="161.2" y="256.4" width="8.2" height="7.8" fill="#d9d8d5" stroke="#444" stroke-width="0.8"/><rect x="161.2" y="269.4" width="8.2" height="7.8" fill="#fff" stroke="#444" stroke-width="0.8"/><rect x="456" y="210.2" width="5.6" height="5.4" fill="#00766c" stroke="#444" stroke-width="0.8"/><rect x="456" y="218.6" width="5.6" height="5.4" fill="#fcca34" stroke="#444" stroke-width="0.8"/><rect x="456" y="229.4" width="5.6" height="5.6" fill="#00766c" stroke="#444" stroke-width="0.8"/><rect x="456" y="238.0" width="5.6" height="5.6" fill="#fcca34" stroke="#444" stroke-width="0.8"/><rect x="1.9" y="611.6" width="7.6" height="7.4" fill="#b2232b" stroke="#444" stroke-width="0.8"/><rect x="69.8" y="611.6" width="7.6" height="7.4" fill="#d9d8d5" stroke="#444" stroke-width="0.8"/><rect x="131.2" y="611.6" width="7.6" height="7.4" fill="#fff" stroke="#444" stroke-width="0.8"/>
<g fill="#3a3a3a" font-family="Liberation Sans, sans-serif" style="filter:grayscale(1)"><text x="454.6" y="13.8" font-size="8.6" font-style="italic">ASXL1</text><text x="454.6" y="32.57" font-size="8.6" font-style="italic">SETBP1</text><text x="454.6" y="51.34" font-size="8.6" font-style="italic">U2AF1</text><text x="454.6" y="70.11" font-size="8.6" font-style="italic">DNMT3A</text><text x="454.6" y="88.88" font-size="8.6" font-style="italic">RUNX1</text><text x="454.6" y="107.64999999999999" font-size="8.6" font-style="italic">ETV6</text><text x="454.6" y="126.42" font-size="8.6" font-style="italic">EZH2</text><text x="454.6" y="145.19" font-size="8.6" font-style="italic">TET2</text><text x="454.6" y="163.96" font-size="8.6" font-style="italic">SRSF2</text><text x="454.6" y="182.73000000000002" font-size="8.6" font-style="italic">PTPN11</text><text x="454.6" y="201.5" font-size="8.6" font-style="italic">CBL</text><text x="466.2" y="215.2" font-size="8.8"><tspan font-style="italic">de novo</tspan> MDS</text><text x="466.4" y="224.0" font-size="8.5">t-MDS</text><text x="466.6" y="234.7" font-size="8.5">blasts &lt; 5%</text><text x="466.6" y="243.0" font-size="8.5">blasts &ge; 5%</text><text x="13.8" y="262.8" font-size="8.6">mutated</text><text x="13.8" y="276.0" font-size="8.75">variant of unknown significance</text><text x="171.5" y="263.0" font-size="8.7">wild type</text><text x="171.5" y="276.0" font-size="8.8">not analyzed</text><text x="1.4" y="295.7" font-size="9.55">Figure 1: Mutational landscape of MDS patients with -7 sole. Each line represents one of the most frequently mutated</text><text x="1.4" y="307.3" font-size="9.5">genes, each column represents one patient.</text><text x="454.6" y="370.4" font-size="8.6">-7</text><text x="454.6" y="390.76" font-size="8.6" font-style="italic">ASXL1</text><text x="454.6" y="411.12" font-size="8.6" font-style="italic">SETBP1</text><text x="454.6" y="431.47999999999996" font-size="8.6" font-style="italic">U2AF1</text><text x="454.6" y="451.84" font-size="8.6" font-style="italic">DNMT3A</text><text x="454.6" y="472.2" font-size="8.6" font-style="italic">RUNX1</text><text x="454.6" y="492.55999999999995" font-size="8.6" font-style="italic">ETV6</text><text x="454.6" y="512.92" font-size="8.6" font-style="italic">EZH2</text><text x="454.6" y="533.28" font-size="8.6" font-style="italic">TET2</text><text x="454.6" y="553.64" font-size="8.6" font-style="italic">SRSF2</text><text x="454.6" y="574.0" font-size="8.6" font-style="italic">CBL</text><text x="454.6" y="594.3599999999999" font-size="8.6" font-style="italic">PTPN11</text><text x="13.1" y="617.4" font-size="8.75">main clone</text><text x="81.6" y="617.4" font-size="8.6">subclone</text><text x="142.2" y="617.4" font-size="8.7">not mutated</text><text x="1.4" y="640.8" font-size="9.52">Figure 2: Clonal architecture in MDS patients with -7 sole.&nbsp; Each line represents one of the most frequently mutated</text><text x="1.4" y="652.5" font-size="9.5">genes, each column represents one patient.</text></g>
</svg></div>
</body></html>
